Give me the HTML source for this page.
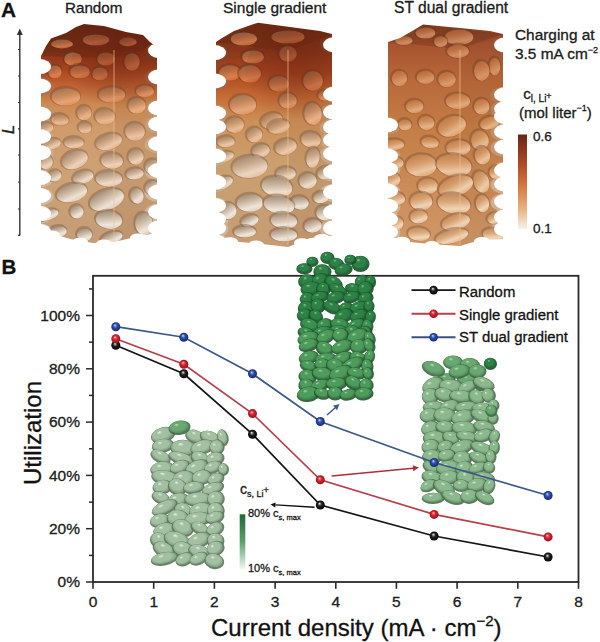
<!DOCTYPE html>
<html><head><meta charset="utf-8"><style>
html,body{margin:0;padding:0;background:#fff;}
body{width:600px;height:642px;overflow:hidden;font-family:"Liberation Sans",sans-serif;}
svg{display:block;}
text{stroke:#151515;stroke-width:0.3px;}
</style></head><body>
<svg width="600" height="642" viewBox="0 0 600 642">
<defs><linearGradient id="gc1" x1="0" y1="20" x2="0" y2="250" gradientUnits="userSpaceOnUse"><stop offset="0.017" stop-color="#6a2814"/><stop offset="0.122" stop-color="#7e3018"/><stop offset="0.200" stop-color="#a0401e"/><stop offset="0.278" stop-color="#be6030"/><stop offset="0.365" stop-color="#cc8a52"/><stop offset="0.478" stop-color="#d09c6c"/><stop offset="0.696" stop-color="#cca276"/><stop offset="0.970" stop-color="#c49c76"/></linearGradient>
<mask id="cpc1" maskUnits="userSpaceOnUse" x="0" y="0" width="600" height="260"><polygon points="41.0,56.0 46.0,46.0 51.0,38.5 66.0,33.0 76.0,27.0 84.0,24.0 104.0,26.0 126.0,32.0 143.0,35.0 150.0,42.0 157.0,47.0 157.0,233.0 140.0,236.0 114.0,242.0 93.0,243.0 70.0,239.0 41.0,230.0" fill="#fff"/><ellipse cx="39.0" cy="66.6" rx="12" ry="7.5" fill="#000"/><ellipse cx="39.0" cy="86.0" rx="12" ry="7.5" fill="#000"/><ellipse cx="39.0" cy="114.0" rx="12" ry="7.5" fill="#000"/><ellipse cx="39.0" cy="136.5" rx="12" ry="7.5" fill="#000"/><ellipse cx="39.0" cy="152.6" rx="12" ry="7.5" fill="#000"/><ellipse cx="39.0" cy="177.7" rx="12" ry="7.5" fill="#000"/><ellipse cx="39.0" cy="195.6" rx="12" ry="7.5" fill="#000"/><ellipse cx="39.0" cy="213.5" rx="12" ry="7.5" fill="#000"/><ellipse cx="39.0" cy="231.5" rx="12" ry="7.5" fill="#000"/><ellipse cx="159.0" cy="50.5" rx="11" ry="7.5" fill="#000"/><ellipse cx="159.0" cy="77.0" rx="11" ry="7.5" fill="#000"/><ellipse cx="159.0" cy="108.0" rx="11" ry="7.5" fill="#000"/><ellipse cx="159.0" cy="124.0" rx="11" ry="7.5" fill="#000"/><ellipse cx="159.0" cy="143.7" rx="11" ry="7.5" fill="#000"/><ellipse cx="159.0" cy="170.5" rx="11" ry="7.5" fill="#000"/><ellipse cx="159.0" cy="192.0" rx="11" ry="7.5" fill="#000"/><ellipse cx="159.0" cy="211.8" rx="11" ry="7.5" fill="#000"/><ellipse cx="159.0" cy="228.0" rx="11" ry="7.5" fill="#000"/><ellipse cx="52.0" cy="234.9" rx="8" ry="4.5" fill="#000"/><ellipse cx="80.0" cy="242.2" rx="8" ry="4.5" fill="#000"/><ellipse cx="104.0" cy="244.0" rx="8" ry="4.5" fill="#000"/><ellipse cx="138.0" cy="238.0" rx="8" ry="4.5" fill="#000"/></mask>
<linearGradient id="hc1_96_40" x1="0.25" y1="0" x2="0.6" y2="1"><stop offset="0" stop-color="#825a46"/><stop offset="0.4" stop-color="#a85f38"/><stop offset="0.75" stop-color="#c47449"/><stop offset="1" stop-color="#bc6131"/></linearGradient>
<linearGradient id="hc1_128_42" x1="0.25" y1="0" x2="0.6" y2="1"><stop offset="0" stop-color="#835b46"/><stop offset="0.4" stop-color="#a95f38"/><stop offset="0.75" stop-color="#c5754a"/><stop offset="1" stop-color="#bd6231"/></linearGradient>
<linearGradient id="hc1_62_44" x1="0.25" y1="0" x2="0.6" y2="1"><stop offset="0" stop-color="#835b46"/><stop offset="0.4" stop-color="#a95f39"/><stop offset="0.75" stop-color="#c6754a"/><stop offset="1" stop-color="#be6231"/></linearGradient>
<linearGradient id="hc1_73_59" x1="0.25" y1="0" x2="0.6" y2="1"><stop offset="0" stop-color="#8b5e48"/><stop offset="0.4" stop-color="#b3643a"/><stop offset="0.75" stop-color="#cf794b"/><stop offset="1" stop-color="#c96733"/></linearGradient>
<linearGradient id="hc1_106_59" x1="0.25" y1="0" x2="0.6" y2="1"><stop offset="0" stop-color="#8b5e48"/><stop offset="0.4" stop-color="#b3643a"/><stop offset="0.75" stop-color="#cf794b"/><stop offset="1" stop-color="#c96733"/></linearGradient>
<linearGradient id="hc1_132_62" x1="0.25" y1="0" x2="0.6" y2="1"><stop offset="0" stop-color="#8d5f48"/><stop offset="0.4" stop-color="#b5653b"/><stop offset="0.75" stop-color="#d27a4c"/><stop offset="1" stop-color="#cb6833"/></linearGradient>
<linearGradient id="hc1_80_72" x1="0.25" y1="0" x2="0.6" y2="1"><stop offset="0" stop-color="#92644b"/><stop offset="0.4" stop-color="#bc6b3e"/><stop offset="0.75" stop-color="#d8804f"/><stop offset="1" stop-color="#d36f37"/></linearGradient>
<linearGradient id="hc1_55_72" x1="0.25" y1="0" x2="0.6" y2="1"><stop offset="0" stop-color="#92644b"/><stop offset="0.4" stop-color="#bc6b3e"/><stop offset="0.75" stop-color="#d8804f"/><stop offset="1" stop-color="#d36f37"/></linearGradient>
<linearGradient id="hc1_100_74" x1="0.25" y1="0" x2="0.6" y2="1"><stop offset="0" stop-color="#94654b"/><stop offset="0.4" stop-color="#be6c3e"/><stop offset="0.75" stop-color="#da8150"/><stop offset="1" stop-color="#d57038"/></linearGradient>
<linearGradient id="hc1_144_91" x1="0.25" y1="0" x2="0.6" y2="1"><stop offset="0" stop-color="#9b7155"/><stop offset="0.4" stop-color="#c78051"/><stop offset="0.75" stop-color="#e49b6b"/><stop offset="1" stop-color="#df8850"/></linearGradient>
<linearGradient id="hc1_112_95" x1="0.25" y1="0" x2="0.6" y2="1"><stop offset="0" stop-color="#9b7457"/><stop offset="0.4" stop-color="#c88456"/><stop offset="0.75" stop-color="#e5a071"/><stop offset="1" stop-color="#e08d55"/></linearGradient>
<linearGradient id="hc1_66_97" x1="0.25" y1="0" x2="0.6" y2="1"><stop offset="0" stop-color="#9c7558"/><stop offset="0.4" stop-color="#c88758"/><stop offset="0.75" stop-color="#e6a375"/><stop offset="1" stop-color="#e19058"/></linearGradient>
<linearGradient id="hc1_137_106" x1="0.25" y1="0" x2="0.6" y2="1"><stop offset="0" stop-color="#9e7b5e"/><stop offset="0.4" stop-color="#ca9063"/><stop offset="0.75" stop-color="#e8ae83"/><stop offset="1" stop-color="#e39b65"/></linearGradient>
<linearGradient id="hc1_84_113" x1="0.25" y1="0" x2="0.6" y2="1"><stop offset="0" stop-color="#9e7d61"/><stop offset="0.4" stop-color="#cb946a"/><stop offset="0.75" stop-color="#e9b48c"/><stop offset="1" stop-color="#e3a16e"/></linearGradient>
<linearGradient id="hc1_105_117" x1="0.25" y1="0" x2="0.6" y2="1"><stop offset="0" stop-color="#9e7e63"/><stop offset="0.4" stop-color="#cb976d"/><stop offset="0.75" stop-color="#e9b891"/><stop offset="1" stop-color="#e3a473"/></linearGradient>
<linearGradient id="hc1_60_120" x1="0.25" y1="0" x2="0.6" y2="1"><stop offset="0" stop-color="#9e7f64"/><stop offset="0.4" stop-color="#cb9870"/><stop offset="0.75" stop-color="#eaba95"/><stop offset="1" stop-color="#e4a676"/></linearGradient>
<linearGradient id="hc1_85_128" x1="0.25" y1="0" x2="0.6" y2="1"><stop offset="0" stop-color="#9f8167"/><stop offset="0.4" stop-color="#cc9d77"/><stop offset="0.75" stop-color="#ebc09f"/><stop offset="1" stop-color="#e4ac80"/></linearGradient>
<linearGradient id="hc1_45_128" x1="0.25" y1="0" x2="0.6" y2="1"><stop offset="0" stop-color="#9f8268"/><stop offset="0.4" stop-color="#cc9d78"/><stop offset="0.75" stop-color="#ebc19f"/><stop offset="1" stop-color="#e4ac80"/></linearGradient>
<linearGradient id="hc1_135_132" x1="0.25" y1="0" x2="0.6" y2="1"><stop offset="0" stop-color="#9f8269"/><stop offset="0.4" stop-color="#cc9f7a"/><stop offset="0.75" stop-color="#ebc3a3"/><stop offset="1" stop-color="#e4af84"/></linearGradient>
<linearGradient id="hc1_109_142" x1="0.25" y1="0" x2="0.6" y2="1"><stop offset="0" stop-color="#9e836a"/><stop offset="0.4" stop-color="#cba380"/><stop offset="0.75" stop-color="#ebc8ac"/><stop offset="1" stop-color="#e4b48c"/></linearGradient>
<linearGradient id="hc1_74_143" x1="0.25" y1="0" x2="0.6" y2="1"><stop offset="0" stop-color="#9e836a"/><stop offset="0.4" stop-color="#cba381"/><stop offset="0.75" stop-color="#ebc9ad"/><stop offset="1" stop-color="#e4b48d"/></linearGradient>
<linearGradient id="hc1_51_144" x1="0.25" y1="0" x2="0.6" y2="1"><stop offset="0" stop-color="#9e846b"/><stop offset="0.4" stop-color="#cba482"/><stop offset="0.75" stop-color="#ebcaae"/><stop offset="1" stop-color="#e4b58e"/></linearGradient>
<linearGradient id="hc1_136_157" x1="0.25" y1="0" x2="0.6" y2="1"><stop offset="0" stop-color="#9e856d"/><stop offset="0.4" stop-color="#cba889"/><stop offset="0.75" stop-color="#ecd0b9"/><stop offset="1" stop-color="#e3bb99"/></linearGradient>
<linearGradient id="hc1_75_160" x1="0.25" y1="0" x2="0.6" y2="1"><stop offset="0" stop-color="#9e856e"/><stop offset="0.4" stop-color="#cba98b"/><stop offset="0.75" stop-color="#ecd2bb"/><stop offset="1" stop-color="#e3bd9c"/></linearGradient>
<linearGradient id="hc1_112_161" x1="0.25" y1="0" x2="0.6" y2="1"><stop offset="0" stop-color="#9e856e"/><stop offset="0.4" stop-color="#cbaa8c"/><stop offset="0.75" stop-color="#ecd2bc"/><stop offset="1" stop-color="#e3be9c"/></linearGradient>
<linearGradient id="hc1_46_162" x1="0.25" y1="0" x2="0.6" y2="1"><stop offset="0" stop-color="#9e866e"/><stop offset="0.4" stop-color="#cbaa8d"/><stop offset="0.75" stop-color="#ecd3bd"/><stop offset="1" stop-color="#e3be9d"/></linearGradient>
<linearGradient id="hc1_152_166" x1="0.25" y1="0" x2="0.6" y2="1"><stop offset="0" stop-color="#9e866f"/><stop offset="0.4" stop-color="#cbac8f"/><stop offset="0.75" stop-color="#ecd5c0"/><stop offset="1" stop-color="#e3c1a1"/></linearGradient>
<linearGradient id="hc1_135_174" x1="0.25" y1="0" x2="0.6" y2="1"><stop offset="0" stop-color="#9e8770"/><stop offset="0.4" stop-color="#cbaf94"/><stop offset="0.75" stop-color="#edd9c6"/><stop offset="1" stop-color="#e3c4a7"/></linearGradient>
<linearGradient id="hc1_55_176" x1="0.25" y1="0" x2="0.6" y2="1"><stop offset="0" stop-color="#9e8770"/><stop offset="0.4" stop-color="#cbaf95"/><stop offset="0.75" stop-color="#eddac7"/><stop offset="1" stop-color="#e3c5a9"/></linearGradient>
<linearGradient id="hc1_83_177" x1="0.25" y1="0" x2="0.6" y2="1"><stop offset="0" stop-color="#9e8771"/><stop offset="0.4" stop-color="#cab096"/><stop offset="0.75" stop-color="#eddac8"/><stop offset="1" stop-color="#e3c6aa"/></linearGradient>
<linearGradient id="hc1_109_179" x1="0.25" y1="0" x2="0.6" y2="1"><stop offset="0" stop-color="#9d8771"/><stop offset="0.4" stop-color="#cab097"/><stop offset="0.75" stop-color="#eddbca"/><stop offset="1" stop-color="#e3c7ab"/></linearGradient>
<linearGradient id="hc1_152_187" x1="0.25" y1="0" x2="0.6" y2="1"><stop offset="0" stop-color="#9d8872"/><stop offset="0.4" stop-color="#cab39c"/><stop offset="0.75" stop-color="#eddfd0"/><stop offset="1" stop-color="#e3cbb2"/></linearGradient>
<linearGradient id="hc1_72_193" x1="0.25" y1="0" x2="0.6" y2="1"><stop offset="0" stop-color="#9d8873"/><stop offset="0.4" stop-color="#cab59e"/><stop offset="0.75" stop-color="#eee1d3"/><stop offset="1" stop-color="#e3cdb6"/></linearGradient>
<linearGradient id="hc1_137_196" x1="0.25" y1="0" x2="0.6" y2="1"><stop offset="0" stop-color="#9d8873"/><stop offset="0.4" stop-color="#cab6a0"/><stop offset="0.75" stop-color="#eee2d5"/><stop offset="1" stop-color="#e2ceb9"/></linearGradient>
<linearGradient id="hc1_107_200" x1="0.25" y1="0" x2="0.6" y2="1"><stop offset="0" stop-color="#9d8873"/><stop offset="0.4" stop-color="#cab7a2"/><stop offset="0.75" stop-color="#eee3d7"/><stop offset="1" stop-color="#e2d0bc"/></linearGradient>
<linearGradient id="hc1_77_212" x1="0.25" y1="0" x2="0.6" y2="1"><stop offset="0" stop-color="#9c8874"/><stop offset="0.4" stop-color="#c9b8a5"/><stop offset="0.75" stop-color="#eee5da"/><stop offset="1" stop-color="#e2d2bf"/></linearGradient>
<linearGradient id="hc1_47_215" x1="0.25" y1="0" x2="0.6" y2="1"><stop offset="0" stop-color="#9c8874"/><stop offset="0.4" stop-color="#c9b8a5"/><stop offset="0.75" stop-color="#eee5da"/><stop offset="1" stop-color="#e2d2bf"/></linearGradient>
<linearGradient id="hc1_109_220" x1="0.25" y1="0" x2="0.6" y2="1"><stop offset="0" stop-color="#9c8874"/><stop offset="0.4" stop-color="#c9b8a5"/><stop offset="0.75" stop-color="#eee5da"/><stop offset="1" stop-color="#e2d2bf"/></linearGradient>
<linearGradient id="hc1_144_224" x1="0.25" y1="0" x2="0.6" y2="1"><stop offset="0" stop-color="#9c8874"/><stop offset="0.4" stop-color="#c9b8a5"/><stop offset="0.75" stop-color="#eee5da"/><stop offset="1" stop-color="#e1d2bf"/></linearGradient>
<linearGradient id="hc1_58_232" x1="0.25" y1="0" x2="0.6" y2="1"><stop offset="0" stop-color="#9c8874"/><stop offset="0.4" stop-color="#c9b8a5"/><stop offset="0.75" stop-color="#eee5da"/><stop offset="1" stop-color="#e1d2bf"/></linearGradient>
<linearGradient id="hc1_84_235" x1="0.25" y1="0" x2="0.6" y2="1"><stop offset="0" stop-color="#9b8874"/><stop offset="0.4" stop-color="#c8b7a5"/><stop offset="0.75" stop-color="#eee5da"/><stop offset="1" stop-color="#e1d1bf"/></linearGradient>
<linearGradient id="hc1_112_238" x1="0.25" y1="0" x2="0.6" y2="1"><stop offset="0" stop-color="#9b8874"/><stop offset="0.4" stop-color="#c8b7a5"/><stop offset="0.75" stop-color="#eee5da"/><stop offset="1" stop-color="#e1d1bf"/></linearGradient>
<radialGradient id="shc1" cx="0.5" cy="0.3" r="0.6"><stop offset="0" stop-color="#6a2010" stop-opacity="0.45"/><stop offset="0.5" stop-color="#6a2010" stop-opacity="0.27"/><stop offset="1" stop-color="#6a2010" stop-opacity="0"/></radialGradient>
<linearGradient id="gc2" x1="0" y1="20" x2="0" y2="250" gradientUnits="userSpaceOnUse"><stop offset="0.013" stop-color="#742c16"/><stop offset="0.122" stop-color="#86361a"/><stop offset="0.226" stop-color="#a84620"/><stop offset="0.326" stop-color="#c46a34"/><stop offset="0.443" stop-color="#cc9058"/><stop offset="0.630" stop-color="#caa070"/><stop offset="0.974" stop-color="#c69c74"/></linearGradient>
<mask id="cpc2" maskUnits="userSpaceOnUse" x="0" y="0" width="600" height="260"><polygon points="216.0,42.0 222.0,38.0 234.0,31.0 248.0,26.0 258.0,22.7 290.0,27.0 320.0,31.0 332.0,34.0 332.0,236.0 310.0,238.0 288.0,247.0 262.0,244.0 240.0,242.0 216.0,238.0" fill="#fff"/><ellipse cx="214.0" cy="52.6" rx="12" ry="7.5" fill="#000"/><ellipse cx="214.0" cy="81.0" rx="12" ry="7.5" fill="#000"/><ellipse cx="214.0" cy="113.0" rx="12" ry="7.5" fill="#000"/><ellipse cx="214.0" cy="126.8" rx="12" ry="7.5" fill="#000"/><ellipse cx="214.0" cy="156.0" rx="12" ry="7.5" fill="#000"/><ellipse cx="214.0" cy="182.0" rx="12" ry="7.5" fill="#000"/><ellipse cx="214.0" cy="205.5" rx="12" ry="7.5" fill="#000"/><ellipse cx="214.0" cy="219.0" rx="12" ry="7.5" fill="#000"/><ellipse cx="214.0" cy="228.0" rx="12" ry="7.5" fill="#000"/><ellipse cx="214.0" cy="241.5" rx="12" ry="7.5" fill="#000"/><ellipse cx="334.0" cy="44.8" rx="11" ry="7.5" fill="#000"/><ellipse cx="334.0" cy="94.3" rx="11" ry="7.5" fill="#000"/><ellipse cx="334.0" cy="112.0" rx="11" ry="7.5" fill="#000"/><ellipse cx="334.0" cy="127.0" rx="11" ry="7.5" fill="#000"/><ellipse cx="334.0" cy="140.0" rx="11" ry="7.5" fill="#000"/><ellipse cx="334.0" cy="153.8" rx="11" ry="7.5" fill="#000"/><ellipse cx="334.0" cy="171.8" rx="11" ry="7.5" fill="#000"/><ellipse cx="334.0" cy="192.0" rx="11" ry="7.5" fill="#000"/><ellipse cx="334.0" cy="212.0" rx="11" ry="7.5" fill="#000"/><ellipse cx="334.0" cy="228.0" rx="11" ry="7.5" fill="#000"/><ellipse cx="230.0" cy="241.8" rx="8" ry="4.5" fill="#000"/><ellipse cx="256.0" cy="245.0" rx="8" ry="4.5" fill="#000"/><ellipse cx="302.0" cy="242.8" rx="8" ry="4.5" fill="#000"/><ellipse cx="322.0" cy="238.4" rx="8" ry="4.5" fill="#000"/></mask>
<linearGradient id="hc2_288_37" x1="0.25" y1="0" x2="0.6" y2="1"><stop offset="0" stop-color="#845c47"/><stop offset="0.4" stop-color="#ab6139"/><stop offset="0.75" stop-color="#c7764a"/><stop offset="1" stop-color="#bf6331"/></linearGradient>
<linearGradient id="hc2_244_39" x1="0.25" y1="0" x2="0.6" y2="1"><stop offset="0" stop-color="#855c47"/><stop offset="0.4" stop-color="#ab6139"/><stop offset="0.75" stop-color="#c8764a"/><stop offset="1" stop-color="#c06432"/></linearGradient>
<linearGradient id="hc2_288_54" x1="0.25" y1="0" x2="0.6" y2="1"><stop offset="0" stop-color="#8a5f48"/><stop offset="0.4" stop-color="#b1643a"/><stop offset="0.75" stop-color="#ce794b"/><stop offset="1" stop-color="#c76733"/></linearGradient>
<linearGradient id="hc2_253_57" x1="0.25" y1="0" x2="0.6" y2="1"><stop offset="0" stop-color="#8b5f48"/><stop offset="0.4" stop-color="#b3653b"/><stop offset="0.75" stop-color="#cf7a4c"/><stop offset="1" stop-color="#c96833"/></linearGradient>
<linearGradient id="hc2_230_73" x1="0.25" y1="0" x2="0.6" y2="1"><stop offset="0" stop-color="#926349"/><stop offset="0.4" stop-color="#bc6a3c"/><stop offset="0.75" stop-color="#d87f4d"/><stop offset="1" stop-color="#d36d35"/></linearGradient>
<linearGradient id="hc2_250_74" x1="0.25" y1="0" x2="0.6" y2="1"><stop offset="0" stop-color="#93634a"/><stop offset="0.4" stop-color="#bd6a3d"/><stop offset="0.75" stop-color="#d97f4e"/><stop offset="1" stop-color="#d36e36"/></linearGradient>
<linearGradient id="hc2_313_81" x1="0.25" y1="0" x2="0.6" y2="1"><stop offset="0" stop-color="#95674d"/><stop offset="0.4" stop-color="#c07143"/><stop offset="0.75" stop-color="#dd8958"/><stop offset="1" stop-color="#d7763e"/></linearGradient>
<linearGradient id="hc2_279_84" x1="0.25" y1="0" x2="0.6" y2="1"><stop offset="0" stop-color="#97694e"/><stop offset="0.4" stop-color="#c27446"/><stop offset="0.75" stop-color="#df8d5c"/><stop offset="1" stop-color="#d97a41"/></linearGradient>
<linearGradient id="hc2_325_95" x1="0.25" y1="0" x2="0.6" y2="1"><stop offset="0" stop-color="#9b7053"/><stop offset="0.4" stop-color="#c78051"/><stop offset="0.75" stop-color="#e59c6d"/><stop offset="1" stop-color="#df8850"/></linearGradient>
<linearGradient id="hc2_288_101" x1="0.25" y1="0" x2="0.6" y2="1"><stop offset="0" stop-color="#9b7356"/><stop offset="0.4" stop-color="#c88557"/><stop offset="0.75" stop-color="#e6a376"/><stop offset="1" stop-color="#e08e57"/></linearGradient>
<linearGradient id="hc2_243_105" x1="0.25" y1="0" x2="0.6" y2="1"><stop offset="0" stop-color="#9c7558"/><stop offset="0.4" stop-color="#c8885b"/><stop offset="0.75" stop-color="#e6a77c"/><stop offset="1" stop-color="#e1935d"/></linearGradient>
<linearGradient id="hc2_313_114" x1="0.25" y1="0" x2="0.6" y2="1"><stop offset="0" stop-color="#9d7a5d"/><stop offset="0.4" stop-color="#c99065"/><stop offset="0.75" stop-color="#e8b189"/><stop offset="1" stop-color="#e29d69"/></linearGradient>
<linearGradient id="hc2_272_121" x1="0.25" y1="0" x2="0.6" y2="1"><stop offset="0" stop-color="#9d7d60"/><stop offset="0.4" stop-color="#ca966c"/><stop offset="0.75" stop-color="#e9b992"/><stop offset="1" stop-color="#e3a473"/></linearGradient>
<linearGradient id="hc2_234_125" x1="0.25" y1="0" x2="0.6" y2="1"><stop offset="0" stop-color="#9d7e62"/><stop offset="0.4" stop-color="#ca9970"/><stop offset="0.75" stop-color="#e9bc97"/><stop offset="1" stop-color="#e3a777"/></linearGradient>
<linearGradient id="hc2_279_127" x1="0.25" y1="0" x2="0.6" y2="1"><stop offset="0" stop-color="#9d7f62"/><stop offset="0.4" stop-color="#ca9a71"/><stop offset="0.75" stop-color="#e9bd99"/><stop offset="1" stop-color="#e3a879"/></linearGradient>
<linearGradient id="hc2_254_135" x1="0.25" y1="0" x2="0.6" y2="1"><stop offset="0" stop-color="#9d8065"/><stop offset="0.4" stop-color="#ca9d77"/><stop offset="0.75" stop-color="#eac2a2"/><stop offset="1" stop-color="#e3ad81"/></linearGradient>
<linearGradient id="hc2_311_140" x1="0.25" y1="0" x2="0.6" y2="1"><stop offset="0" stop-color="#9d8166"/><stop offset="0.4" stop-color="#caa07b"/><stop offset="0.75" stop-color="#eac6a7"/><stop offset="1" stop-color="#e2b086"/></linearGradient>
<linearGradient id="hc2_226_142" x1="0.25" y1="0" x2="0.6" y2="1"><stop offset="0" stop-color="#9d8267"/><stop offset="0.4" stop-color="#caa17c"/><stop offset="0.75" stop-color="#eac7a9"/><stop offset="1" stop-color="#e2b288"/></linearGradient>
<linearGradient id="hc2_286_147" x1="0.25" y1="0" x2="0.6" y2="1"><stop offset="0" stop-color="#9d8268"/><stop offset="0.4" stop-color="#caa380"/><stop offset="0.75" stop-color="#ebcaae"/><stop offset="1" stop-color="#e2b58d"/></linearGradient>
<linearGradient id="hc2_261_151" x1="0.25" y1="0" x2="0.6" y2="1"><stop offset="0" stop-color="#9d8369"/><stop offset="0.4" stop-color="#caa583"/><stop offset="0.75" stop-color="#ebccb2"/><stop offset="1" stop-color="#e2b791"/></linearGradient>
<linearGradient id="hc2_222_157" x1="0.25" y1="0" x2="0.6" y2="1"><stop offset="0" stop-color="#9d846b"/><stop offset="0.4" stop-color="#caa888"/><stop offset="0.75" stop-color="#ebd0b7"/><stop offset="1" stop-color="#e2bb97"/></linearGradient>
<linearGradient id="hc2_313_158" x1="0.25" y1="0" x2="0.6" y2="1"><stop offset="0" stop-color="#9d846b"/><stop offset="0.4" stop-color="#caa888"/><stop offset="0.75" stop-color="#ebd0b8"/><stop offset="1" stop-color="#e2bb98"/></linearGradient>
<linearGradient id="hc2_250_167" x1="0.25" y1="0" x2="0.6" y2="1"><stop offset="0" stop-color="#9d866e"/><stop offset="0.4" stop-color="#caac8e"/><stop offset="0.75" stop-color="#ecd5c0"/><stop offset="1" stop-color="#e2c0a0"/></linearGradient>
<linearGradient id="hc2_326_173" x1="0.25" y1="0" x2="0.6" y2="1"><stop offset="0" stop-color="#9d866f"/><stop offset="0.4" stop-color="#caae92"/><stop offset="0.75" stop-color="#ecd8c4"/><stop offset="1" stop-color="#e2c3a5"/></linearGradient>
<linearGradient id="hc2_286_174" x1="0.25" y1="0" x2="0.6" y2="1"><stop offset="0" stop-color="#9d866f"/><stop offset="0.4" stop-color="#caae92"/><stop offset="0.75" stop-color="#ecd8c5"/><stop offset="1" stop-color="#e2c4a6"/></linearGradient>
<linearGradient id="hc2_308_181" x1="0.25" y1="0" x2="0.6" y2="1"><stop offset="0" stop-color="#9d8770"/><stop offset="0.4" stop-color="#cab096"/><stop offset="0.75" stop-color="#eddbca"/><stop offset="1" stop-color="#e2c7ab"/></linearGradient>
<linearGradient id="hc2_222_183" x1="0.25" y1="0" x2="0.6" y2="1"><stop offset="0" stop-color="#9d8770"/><stop offset="0.4" stop-color="#cab198"/><stop offset="0.75" stop-color="#eddccb"/><stop offset="1" stop-color="#e2c8ad"/></linearGradient>
<linearGradient id="hc2_277_187" x1="0.25" y1="0" x2="0.6" y2="1"><stop offset="0" stop-color="#9d8770"/><stop offset="0.4" stop-color="#c9b29a"/><stop offset="0.75" stop-color="#eddece"/><stop offset="1" stop-color="#e2cab0"/></linearGradient>
<linearGradient id="hc2_321_197" x1="0.25" y1="0" x2="0.6" y2="1"><stop offset="0" stop-color="#9c8872"/><stop offset="0.4" stop-color="#c9b59f"/><stop offset="0.75" stop-color="#eee2d5"/><stop offset="1" stop-color="#e2ceb8"/></linearGradient>
<linearGradient id="hc2_250_203" x1="0.25" y1="0" x2="0.6" y2="1"><stop offset="0" stop-color="#9c8872"/><stop offset="0.4" stop-color="#c9b7a3"/><stop offset="0.75" stop-color="#eee4d8"/><stop offset="1" stop-color="#e2d1bd"/></linearGradient>
<linearGradient id="hc2_300_203" x1="0.25" y1="0" x2="0.6" y2="1"><stop offset="0" stop-color="#9c8872"/><stop offset="0.4" stop-color="#c9b7a3"/><stop offset="0.75" stop-color="#eee4d8"/><stop offset="1" stop-color="#e2d1bd"/></linearGradient>
<linearGradient id="hc2_279_205" x1="0.25" y1="0" x2="0.6" y2="1"><stop offset="0" stop-color="#9c8873"/><stop offset="0.4" stop-color="#c9b8a4"/><stop offset="0.75" stop-color="#eee5d9"/><stop offset="1" stop-color="#e2d2be"/></linearGradient>
<linearGradient id="hc2_228_211" x1="0.25" y1="0" x2="0.6" y2="1"><stop offset="0" stop-color="#9c8873"/><stop offset="0.4" stop-color="#c9b8a4"/><stop offset="0.75" stop-color="#eee5da"/><stop offset="1" stop-color="#e2d2be"/></linearGradient>
<linearGradient id="hc2_324_213" x1="0.25" y1="0" x2="0.6" y2="1"><stop offset="0" stop-color="#9c8873"/><stop offset="0.4" stop-color="#c9b8a4"/><stop offset="0.75" stop-color="#eee5da"/><stop offset="1" stop-color="#e2d2be"/></linearGradient>
<linearGradient id="hc2_250_221" x1="0.25" y1="0" x2="0.6" y2="1"><stop offset="0" stop-color="#9c8873"/><stop offset="0.4" stop-color="#c9b8a4"/><stop offset="0.75" stop-color="#eee5da"/><stop offset="1" stop-color="#e2d2bf"/></linearGradient>
<linearGradient id="hc2_284_221" x1="0.25" y1="0" x2="0.6" y2="1"><stop offset="0" stop-color="#9c8873"/><stop offset="0.4" stop-color="#c9b8a4"/><stop offset="0.75" stop-color="#eee5da"/><stop offset="1" stop-color="#e2d2bf"/></linearGradient>
<linearGradient id="hc2_313_226" x1="0.25" y1="0" x2="0.6" y2="1"><stop offset="0" stop-color="#9c8873"/><stop offset="0.4" stop-color="#c9b7a4"/><stop offset="0.75" stop-color="#eee5da"/><stop offset="1" stop-color="#e2d2bf"/></linearGradient>
<linearGradient id="hc2_245_232" x1="0.25" y1="0" x2="0.6" y2="1"><stop offset="0" stop-color="#9c8873"/><stop offset="0.4" stop-color="#c9b7a4"/><stop offset="0.75" stop-color="#eee5da"/><stop offset="1" stop-color="#e2d1bf"/></linearGradient>
<linearGradient id="hc2_284_235" x1="0.25" y1="0" x2="0.6" y2="1"><stop offset="0" stop-color="#9c8873"/><stop offset="0.4" stop-color="#c9b7a4"/><stop offset="0.75" stop-color="#eee5da"/><stop offset="1" stop-color="#e1d1bf"/></linearGradient>
<radialGradient id="shc2" cx="0.5" cy="0.3" r="0.6"><stop offset="0" stop-color="#6a2010" stop-opacity="0.45"/><stop offset="0.5" stop-color="#6a2010" stop-opacity="0.27"/><stop offset="1" stop-color="#6a2010" stop-opacity="0"/></radialGradient>
<linearGradient id="gc3" x1="0" y1="20" x2="0" y2="250" gradientUnits="userSpaceOnUse"><stop offset="0.017" stop-color="#8a4022"/><stop offset="0.109" stop-color="#a65430"/><stop offset="0.261" stop-color="#b8693a"/><stop offset="0.478" stop-color="#c47e46"/><stop offset="0.739" stop-color="#cc8c58"/><stop offset="0.978" stop-color="#d09868"/></linearGradient>
<mask id="cpc3" maskUnits="userSpaceOnUse" x="0" y="0" width="600" height="260"><polygon points="388.0,42.0 400.0,38.0 414.0,30.0 423.0,24.5 460.0,28.0 490.0,31.0 503.0,34.0 503.0,239.0 480.0,240.0 460.0,246.0 430.0,244.0 410.0,242.0 388.0,236.0" fill="#fff"/><ellipse cx="386.0" cy="125.0" rx="12" ry="7.5" fill="#000"/><ellipse cx="386.0" cy="155.8" rx="12" ry="7.5" fill="#000"/><ellipse cx="386.0" cy="169.0" rx="12" ry="7.5" fill="#000"/><ellipse cx="386.0" cy="190.7" rx="12" ry="7.5" fill="#000"/><ellipse cx="386.0" cy="206.0" rx="12" ry="7.5" fill="#000"/><ellipse cx="386.0" cy="219.0" rx="12" ry="7.5" fill="#000"/><ellipse cx="386.0" cy="232.0" rx="12" ry="7.5" fill="#000"/><ellipse cx="505.0" cy="45.0" rx="11" ry="7.5" fill="#000"/><ellipse cx="505.0" cy="94.8" rx="11" ry="7.5" fill="#000"/><ellipse cx="505.0" cy="108.8" rx="11" ry="7.5" fill="#000"/><ellipse cx="505.0" cy="116.5" rx="11" ry="7.5" fill="#000"/><ellipse cx="505.0" cy="131.8" rx="11" ry="7.5" fill="#000"/><ellipse cx="505.0" cy="147.0" rx="11" ry="7.5" fill="#000"/><ellipse cx="505.0" cy="170.0" rx="11" ry="7.5" fill="#000"/><ellipse cx="505.0" cy="184.0" rx="11" ry="7.5" fill="#000"/><ellipse cx="505.0" cy="201.6" rx="11" ry="7.5" fill="#000"/><ellipse cx="505.0" cy="217.0" rx="11" ry="7.5" fill="#000"/><ellipse cx="505.0" cy="228.9" rx="11" ry="7.5" fill="#000"/><ellipse cx="402.0" cy="241.3" rx="8" ry="4.5" fill="#000"/><ellipse cx="432.0" cy="245.6" rx="8" ry="4.5" fill="#000"/><ellipse cx="482.0" cy="241.4" rx="8" ry="4.5" fill="#000"/></mask>
<linearGradient id="hc3_425_33" x1="0.25" y1="0" x2="0.6" y2="1"><stop offset="0" stop-color="#9c532f"/><stop offset="0.4" stop-color="#b46a40"/><stop offset="0.75" stop-color="#c88760"/><stop offset="1" stop-color="#c1774a"/></linearGradient>
<linearGradient id="hc3_459_37" x1="0.25" y1="0" x2="0.6" y2="1"><stop offset="0" stop-color="#a05631"/><stop offset="0.4" stop-color="#b76d42"/><stop offset="0.75" stop-color="#cb8961"/><stop offset="1" stop-color="#c4794b"/></linearGradient>
<linearGradient id="hc3_403_40" x1="0.25" y1="0" x2="0.6" y2="1"><stop offset="0" stop-color="#a35833"/><stop offset="0.4" stop-color="#ba6f43"/><stop offset="0.75" stop-color="#cd8b62"/><stop offset="1" stop-color="#c67b4d"/></linearGradient>
<linearGradient id="hc3_440_41" x1="0.25" y1="0" x2="0.6" y2="1"><stop offset="0" stop-color="#a45933"/><stop offset="0.4" stop-color="#bb6f44"/><stop offset="0.75" stop-color="#ce8b62"/><stop offset="1" stop-color="#c77b4d"/></linearGradient>
<linearGradient id="hc3_458_51" x1="0.25" y1="0" x2="0.6" y2="1"><stop offset="0" stop-color="#a95e36"/><stop offset="0.4" stop-color="#bf7346"/><stop offset="0.75" stop-color="#d28e64"/><stop offset="1" stop-color="#cb7f4f"/></linearGradient>
<linearGradient id="hc3_494_66" x1="0.25" y1="0" x2="0.6" y2="1"><stop offset="0" stop-color="#af6439"/><stop offset="0.4" stop-color="#c47949"/><stop offset="0.75" stop-color="#d59366"/><stop offset="1" stop-color="#d08452"/></linearGradient>
<linearGradient id="hc3_481_71" x1="0.25" y1="0" x2="0.6" y2="1"><stop offset="0" stop-color="#b0663a"/><stop offset="0.4" stop-color="#c57a4a"/><stop offset="0.75" stop-color="#d69467"/><stop offset="1" stop-color="#d18652"/></linearGradient>
<linearGradient id="hc3_425_77" x1="0.25" y1="0" x2="0.6" y2="1"><stop offset="0" stop-color="#b3683b"/><stop offset="0.4" stop-color="#c77d4b"/><stop offset="0.75" stop-color="#d89769"/><stop offset="1" stop-color="#d38854"/></linearGradient>
<linearGradient id="hc3_399_78" x1="0.25" y1="0" x2="0.6" y2="1"><stop offset="0" stop-color="#b3693b"/><stop offset="0.4" stop-color="#c87e4b"/><stop offset="0.75" stop-color="#d9986a"/><stop offset="1" stop-color="#d38954"/></linearGradient>
<linearGradient id="hc3_447_79" x1="0.25" y1="0" x2="0.6" y2="1"><stop offset="0" stop-color="#b3693b"/><stop offset="0.4" stop-color="#c87e4c"/><stop offset="0.75" stop-color="#d9996b"/><stop offset="1" stop-color="#d48955"/></linearGradient>
<linearGradient id="hc3_458_101" x1="0.25" y1="0" x2="0.6" y2="1"><stop offset="0" stop-color="#b77040"/><stop offset="0.4" stop-color="#cc8753"/><stop offset="0.75" stop-color="#dfa77a"/><stop offset="1" stop-color="#d8935d"/></linearGradient>
<linearGradient id="hc3_414_106" x1="0.25" y1="0" x2="0.6" y2="1"><stop offset="0" stop-color="#b87241"/><stop offset="0.4" stop-color="#cd8955"/><stop offset="0.75" stop-color="#e0aa7e"/><stop offset="1" stop-color="#d9955f"/></linearGradient>
<linearGradient id="hc3_481_106" x1="0.25" y1="0" x2="0.6" y2="1"><stop offset="0" stop-color="#b87241"/><stop offset="0.4" stop-color="#cd8955"/><stop offset="0.75" stop-color="#e0aa7e"/><stop offset="1" stop-color="#d9955f"/></linearGradient>
<linearGradient id="hc3_426_123" x1="0.25" y1="0" x2="0.6" y2="1"><stop offset="0" stop-color="#bb7744"/><stop offset="0.4" stop-color="#d08f5a"/><stop offset="0.75" stop-color="#e4b389"/><stop offset="1" stop-color="#dc9c65"/></linearGradient>
<linearGradient id="hc3_489_123" x1="0.25" y1="0" x2="0.6" y2="1"><stop offset="0" stop-color="#bb7744"/><stop offset="0.4" stop-color="#d08f5a"/><stop offset="0.75" stop-color="#e4b389"/><stop offset="1" stop-color="#dc9c66"/></linearGradient>
<linearGradient id="hc3_405_125" x1="0.25" y1="0" x2="0.6" y2="1"><stop offset="0" stop-color="#bb7845"/><stop offset="0.4" stop-color="#d0905a"/><stop offset="0.75" stop-color="#e4b48a"/><stop offset="1" stop-color="#dc9d66"/></linearGradient>
<linearGradient id="hc3_452_126" x1="0.25" y1="0" x2="0.6" y2="1"><stop offset="0" stop-color="#bb7845"/><stop offset="0.4" stop-color="#d1905b"/><stop offset="0.75" stop-color="#e5b58b"/><stop offset="1" stop-color="#dc9e67"/></linearGradient>
<linearGradient id="hc3_480_140" x1="0.25" y1="0" x2="0.6" y2="1"><stop offset="0" stop-color="#bd7b48"/><stop offset="0.4" stop-color="#d2945f"/><stop offset="0.75" stop-color="#e7bb94"/><stop offset="1" stop-color="#dea26c"/></linearGradient>
<linearGradient id="hc3_430_142" x1="0.25" y1="0" x2="0.6" y2="1"><stop offset="0" stop-color="#bd7c49"/><stop offset="0.4" stop-color="#d39560"/><stop offset="0.75" stop-color="#e7bc95"/><stop offset="1" stop-color="#dea36d"/></linearGradient>
<linearGradient id="hc3_393_145" x1="0.25" y1="0" x2="0.6" y2="1"><stop offset="0" stop-color="#bd7c49"/><stop offset="0.4" stop-color="#d39661"/><stop offset="0.75" stop-color="#e8bd97"/><stop offset="1" stop-color="#dfa46e"/></linearGradient>
<linearGradient id="hc3_458_148" x1="0.25" y1="0" x2="0.6" y2="1"><stop offset="0" stop-color="#be7d4a"/><stop offset="0.4" stop-color="#d39662"/><stop offset="0.75" stop-color="#e8bf99"/><stop offset="1" stop-color="#dfa56f"/></linearGradient>
<linearGradient id="hc3_482_155" x1="0.25" y1="0" x2="0.6" y2="1"><stop offset="0" stop-color="#be7e4c"/><stop offset="0.4" stop-color="#d49864"/><stop offset="0.75" stop-color="#e9c29d"/><stop offset="1" stop-color="#e0a772"/></linearGradient>
<linearGradient id="hc3_394_163" x1="0.25" y1="0" x2="0.6" y2="1"><stop offset="0" stop-color="#bf7f4d"/><stop offset="0.4" stop-color="#d59a67"/><stop offset="0.75" stop-color="#eac5a2"/><stop offset="1" stop-color="#e1a975"/></linearGradient>
<linearGradient id="hc3_421_165" x1="0.25" y1="0" x2="0.6" y2="1"><stop offset="0" stop-color="#bf804e"/><stop offset="0.4" stop-color="#d59b68"/><stop offset="0.75" stop-color="#ebc6a3"/><stop offset="1" stop-color="#e1aa76"/></linearGradient>
<linearGradient id="hc3_454_165" x1="0.25" y1="0" x2="0.6" y2="1"><stop offset="0" stop-color="#bf804e"/><stop offset="0.4" stop-color="#d59b68"/><stop offset="0.75" stop-color="#ebc6a3"/><stop offset="1" stop-color="#e1aa76"/></linearGradient>
<linearGradient id="hc3_496_172" x1="0.25" y1="0" x2="0.6" y2="1"><stop offset="0" stop-color="#c08150"/><stop offset="0.4" stop-color="#d69d6a"/><stop offset="0.75" stop-color="#ecc9a7"/><stop offset="1" stop-color="#e2ac78"/></linearGradient>
<linearGradient id="hc3_392_180" x1="0.25" y1="0" x2="0.6" y2="1"><stop offset="0" stop-color="#c18351"/><stop offset="0.4" stop-color="#d79f6c"/><stop offset="0.75" stop-color="#edcbab"/><stop offset="1" stop-color="#e2ae7b"/></linearGradient>
<linearGradient id="hc3_481_182" x1="0.25" y1="0" x2="0.6" y2="1"><stop offset="0" stop-color="#c18352"/><stop offset="0.4" stop-color="#d79f6d"/><stop offset="0.75" stop-color="#edccac"/><stop offset="1" stop-color="#e3af7c"/></linearGradient>
<linearGradient id="hc3_428_186" x1="0.25" y1="0" x2="0.6" y2="1"><stop offset="0" stop-color="#c18453"/><stop offset="0.4" stop-color="#d7a06e"/><stop offset="0.75" stop-color="#eeceae"/><stop offset="1" stop-color="#e3b07d"/></linearGradient>
<linearGradient id="hc3_456_186" x1="0.25" y1="0" x2="0.6" y2="1"><stop offset="0" stop-color="#c18453"/><stop offset="0.4" stop-color="#d7a06e"/><stop offset="0.75" stop-color="#eeceae"/><stop offset="1" stop-color="#e3b07d"/></linearGradient>
<linearGradient id="hc3_395_198" x1="0.25" y1="0" x2="0.6" y2="1"><stop offset="0" stop-color="#c28656"/><stop offset="0.4" stop-color="#d8a372"/><stop offset="0.75" stop-color="#efd2b5"/><stop offset="1" stop-color="#e4b382"/></linearGradient>
<linearGradient id="hc3_421_201" x1="0.25" y1="0" x2="0.6" y2="1"><stop offset="0" stop-color="#c28656"/><stop offset="0.4" stop-color="#d8a473"/><stop offset="0.75" stop-color="#efd3b6"/><stop offset="1" stop-color="#e4b483"/></linearGradient>
<linearGradient id="hc3_454_203" x1="0.25" y1="0" x2="0.6" y2="1"><stop offset="0" stop-color="#c28757"/><stop offset="0.4" stop-color="#d8a474"/><stop offset="0.75" stop-color="#efd4b7"/><stop offset="1" stop-color="#e4b583"/></linearGradient>
<linearGradient id="hc3_482_203" x1="0.25" y1="0" x2="0.6" y2="1"><stop offset="0" stop-color="#c28757"/><stop offset="0.4" stop-color="#d8a474"/><stop offset="0.75" stop-color="#efd4b7"/><stop offset="1" stop-color="#e4b583"/></linearGradient>
<linearGradient id="hc3_419_216" x1="0.25" y1="0" x2="0.6" y2="1"><stop offset="0" stop-color="#c38959"/><stop offset="0.4" stop-color="#d9a676"/><stop offset="0.75" stop-color="#f0d5b8"/><stop offset="1" stop-color="#e5b685"/></linearGradient>
<linearGradient id="hc3_494_218" x1="0.25" y1="0" x2="0.6" y2="1"><stop offset="0" stop-color="#c3895a"/><stop offset="0.4" stop-color="#d9a676"/><stop offset="0.75" stop-color="#f0d5b8"/><stop offset="1" stop-color="#e5b685"/></linearGradient>
<linearGradient id="hc3_456_222" x1="0.25" y1="0" x2="0.6" y2="1"><stop offset="0" stop-color="#c3895a"/><stop offset="0.4" stop-color="#d9a676"/><stop offset="0.75" stop-color="#f0d5b9"/><stop offset="1" stop-color="#e5b686"/></linearGradient>
<linearGradient id="hc3_396_223" x1="0.25" y1="0" x2="0.6" y2="1"><stop offset="0" stop-color="#c38a5b"/><stop offset="0.4" stop-color="#d9a777"/><stop offset="0.75" stop-color="#f0d5b9"/><stop offset="1" stop-color="#e5b786"/></linearGradient>
<linearGradient id="hc3_419_234" x1="0.25" y1="0" x2="0.6" y2="1"><stop offset="0" stop-color="#c48b5d"/><stop offset="0.4" stop-color="#daa878"/><stop offset="0.75" stop-color="#f0d6b9"/><stop offset="1" stop-color="#e5b787"/></linearGradient>
<linearGradient id="hc3_493_234" x1="0.25" y1="0" x2="0.6" y2="1"><stop offset="0" stop-color="#c48b5d"/><stop offset="0.4" stop-color="#daa878"/><stop offset="0.75" stop-color="#f0d6ba"/><stop offset="1" stop-color="#e5b887"/></linearGradient>
<linearGradient id="hc3_452_236" x1="0.25" y1="0" x2="0.6" y2="1"><stop offset="0" stop-color="#c48b5d"/><stop offset="0.4" stop-color="#daa878"/><stop offset="0.75" stop-color="#f0d6ba"/><stop offset="1" stop-color="#e5b887"/></linearGradient>
<linearGradient id="cb1" x1="0" y1="0" x2="0" y2="1"><stop offset="0" stop-color="#6a2416"/><stop offset="0.3" stop-color="#ac4826"/><stop offset="0.55" stop-color="#d6783c"/><stop offset="0.8" stop-color="#e8b688"/><stop offset="1" stop-color="#f8f2ec"/></linearGradient>
<radialGradient id="gD" cx="0.5" cy="0.5" r="0.6" fx="0.38" fy="0.26"><stop offset="0" stop-color="#86c890"/><stop offset="0.22" stop-color="#2e8246"/><stop offset="0.6" stop-color="#2e8246"/><stop offset="1" stop-color="#1a5a2c"/></radialGradient>
<radialGradient id="gDM" cx="0.5" cy="0.5" r="0.6" fx="0.38" fy="0.26"><stop offset="0" stop-color="#94d09c"/><stop offset="0.22" stop-color="#3c9050"/><stop offset="0.6" stop-color="#3c9050"/><stop offset="1" stop-color="#226234"/></radialGradient>
<radialGradient id="gM" cx="0.5" cy="0.5" r="0.6" fx="0.38" fy="0.26"><stop offset="0" stop-color="#a4d8aa"/><stop offset="0.22" stop-color="#4e9c5c"/><stop offset="0.6" stop-color="#4e9c5c"/><stop offset="1" stop-color="#2c6a38"/></radialGradient>
<radialGradient id="gL" cx="0.5" cy="0.5" r="0.6" fx="0.38" fy="0.26"><stop offset="0" stop-color="#d8ecd6"/><stop offset="0.22" stop-color="#8cb88e"/><stop offset="0.6" stop-color="#8cb88e"/><stop offset="1" stop-color="#5e8a60"/></radialGradient>
<radialGradient id="gLD" cx="0.5" cy="0.5" r="0.6" fx="0.38" fy="0.26"><stop offset="0" stop-color="#c0e0c0"/><stop offset="0.22" stop-color="#6aa872"/><stop offset="0.6" stop-color="#6aa872"/><stop offset="1" stop-color="#487e50"/></radialGradient>
<radialGradient id="gP" cx="0.5" cy="0.5" r="0.6" fx="0.38" fy="0.26"><stop offset="0" stop-color="#e8f2e6"/><stop offset="0.22" stop-color="#a4c0a2"/><stop offset="0.6" stop-color="#a4c0a2"/><stop offset="1" stop-color="#729072"/></radialGradient>
<radialGradient id="mK" cx="0.5" cy="0.5" r="0.55" fx="0.4" fy="0.32"><stop offset="0" stop-color="#f0f0f0"/><stop offset="0.18" stop-color="#909090"/><stop offset="0.42" stop-color="#222"/><stop offset="1" stop-color="#000"/></radialGradient>
<radialGradient id="mR" cx="0.5" cy="0.5" r="0.55" fx="0.4" fy="0.32"><stop offset="0" stop-color="#ffe8e8"/><stop offset="0.2" stop-color="#f06068"/><stop offset="0.45" stop-color="#d82030"/><stop offset="1" stop-color="#8a1018"/></radialGradient>
<radialGradient id="mB" cx="0.5" cy="0.5" r="0.55" fx="0.4" fy="0.32"><stop offset="0" stop-color="#e0ecff"/><stop offset="0.2" stop-color="#6a8ad8"/><stop offset="0.45" stop-color="#2c4ca8"/><stop offset="1" stop-color="#14265e"/></radialGradient>
<linearGradient id="cb2" x1="0" y1="0" x2="0" y2="1"><stop offset="0" stop-color="#1c6a38"/><stop offset="0.5" stop-color="#5aa06c"/><stop offset="1" stop-color="#f2f8f2"/></linearGradient></defs>
<rect width="600" height="642" fill="#fff"/>
<g mask="url(#cpc1)">
<rect x="39" y="15" width="120" height="240" fill="url(#gc1)"/>
<polygon points="114,15 159,15 159,255 114,255" fill="#5a2a10" opacity="0.06"/>
<polygon points="41.0,56.0 51.0,38.5 84.0,24.0 143.0,35.0 157.0,47.0 114.0,58.0" fill="#4a1a0a" opacity="0.22"/>
<ellipse cx="40.0" cy="67.4" rx="13.5" ry="9" fill="#975033" opacity="0.85"/>
<ellipse cx="40.0" cy="86.8" rx="13.5" ry="9" fill="#b0704c" opacity="0.85"/>
<ellipse cx="40.0" cy="114.8" rx="13.5" ry="9" fill="#c19772" opacity="0.85"/>
<ellipse cx="40.0" cy="137.3" rx="13.5" ry="9" fill="#c9a787" opacity="0.85"/>
<ellipse cx="40.0" cy="153.4" rx="13.5" ry="9" fill="#cdae90" opacity="0.85"/>
<ellipse cx="40.0" cy="178.5" rx="13.5" ry="9" fill="#d3ba9e" opacity="0.85"/>
<ellipse cx="40.0" cy="196.4" rx="13.5" ry="9" fill="#d5bca2" opacity="0.85"/>
<ellipse cx="40.0" cy="214.3" rx="13.5" ry="9" fill="#d4bba2" opacity="0.85"/>
<ellipse cx="40.0" cy="232.3" rx="13.5" ry="9" fill="#d3baa2" opacity="0.85"/>
<ellipse cx="158.0" cy="51.3" rx="13.5" ry="9" fill="#7f4029" opacity="0.85"/>
<ellipse cx="158.0" cy="77.8" rx="13.5" ry="9" fill="#a56140" opacity="0.85"/>
<ellipse cx="158.0" cy="108.8" rx="13.5" ry="9" fill="#bf926c" opacity="0.85"/>
<ellipse cx="158.0" cy="124.8" rx="13.5" ry="9" fill="#c59f7d" opacity="0.85"/>
<ellipse cx="158.0" cy="144.5" rx="13.5" ry="9" fill="#cbaa8b" opacity="0.85"/>
<ellipse cx="158.0" cy="171.3" rx="13.5" ry="9" fill="#d2b69a" opacity="0.85"/>
<ellipse cx="158.0" cy="192.8" rx="13.5" ry="9" fill="#d5bca2" opacity="0.85"/>
<ellipse cx="158.0" cy="212.6" rx="13.5" ry="9" fill="#d4bba2" opacity="0.85"/>
<ellipse cx="158.0" cy="228.8" rx="13.5" ry="9" fill="#d3bba2" opacity="0.85"/>
<ellipse cx="95.4" cy="39.0" rx="14.6" ry="6.9" transform="rotate(0 96.0 40.0)" fill="#5f2b18" opacity="0.5"/>
<ellipse cx="96.0" cy="40.0" rx="13.2" ry="5.5" transform="rotate(0 96.0 40.0)" fill="url(#hc1_96_40)"/>
<ellipse cx="127.4" cy="41.0" rx="10.2" ry="5.8" transform="rotate(0 128.0 42.0)" fill="#602b18" opacity="0.5"/>
<ellipse cx="128.0" cy="42.0" rx="8.8" ry="4.4" transform="rotate(0 128.0 42.0)" fill="url(#hc1_128_42)"/>
<ellipse cx="61.4" cy="43.0" rx="12.4" ry="5.8" transform="rotate(0 62.0 44.0)" fill="#602b18" opacity="0.5"/>
<ellipse cx="62.0" cy="44.0" rx="11.0" ry="4.4" transform="rotate(0 62.0 44.0)" fill="url(#hc1_62_44)"/>
<ellipse cx="72.4" cy="58.0" rx="10.2" ry="8.0" transform="rotate(0 73.0 59.0)" fill="#6c311a" opacity="0.5"/>
<ellipse cx="73.0" cy="59.0" rx="8.8" ry="6.6" transform="rotate(0 73.0 59.0)" fill="url(#hc1_73_59)"/>
<ellipse cx="105.4" cy="58.0" rx="10.2" ry="8.0" transform="rotate(0 106.0 59.0)" fill="#6c311a" opacity="0.5"/>
<ellipse cx="106.0" cy="59.0" rx="8.8" ry="6.6" transform="rotate(0 106.0 59.0)" fill="url(#hc1_106_59)"/>
<ellipse cx="131.4" cy="61.0" rx="9.1" ry="10.2" transform="rotate(0 132.0 62.0)" fill="#6f321b" opacity="0.5"/>
<ellipse cx="132.0" cy="62.0" rx="7.7" ry="8.8" transform="rotate(0 132.0 62.0)" fill="url(#hc1_132_62)"/>
<ellipse cx="79.4" cy="71.0" rx="11.3" ry="8.0" transform="rotate(0 80.0 72.0)" fill="#78391e" opacity="0.5"/>
<ellipse cx="80.0" cy="72.0" rx="9.9" ry="6.6" transform="rotate(0 80.0 72.0)" fill="url(#hc1_80_72)"/>
<ellipse cx="54.4" cy="71.0" rx="8.0" ry="8.0" transform="rotate(0 55.0 72.0)" fill="#78391e" opacity="0.5"/>
<ellipse cx="55.0" cy="72.0" rx="6.6" ry="6.6" transform="rotate(0 55.0 72.0)" fill="url(#hc1_55_72)"/>
<ellipse cx="99.4" cy="73.0" rx="9.1" ry="8.0" transform="rotate(0 100.0 74.0)" fill="#7a3b20" opacity="0.5"/>
<ellipse cx="100.0" cy="74.0" rx="7.7" ry="6.6" transform="rotate(0 100.0 74.0)" fill="url(#hc1_100_74)"/>
<ellipse cx="144.4" cy="90.4" rx="10.4" ry="7.2" transform="rotate(0 145.0 91.4)" fill="#854c2b" opacity="0.5"/>
<ellipse cx="145.0" cy="91.4" rx="9.0" ry="5.8" transform="rotate(0 145.0 91.4)" fill="url(#hc1_144_91)"/>
<ellipse cx="111.4" cy="94.0" rx="14.6" ry="9.1" transform="rotate(0 112.0 95.0)" fill="#86502e" opacity="0.5"/>
<ellipse cx="112.0" cy="95.0" rx="13.2" ry="7.7" transform="rotate(0 112.0 95.0)" fill="url(#hc1_112_95)"/>
<ellipse cx="65.4" cy="96.0" rx="15.7" ry="10.2" transform="rotate(0 66.0 97.0)" fill="#875230" opacity="0.5"/>
<ellipse cx="66.0" cy="97.0" rx="14.3" ry="8.8" transform="rotate(0 66.0 97.0)" fill="url(#hc1_66_97)"/>
<ellipse cx="136.4" cy="105.0" rx="10.2" ry="9.1" transform="rotate(0 137.0 106.0)" fill="#895a36" opacity="0.5"/>
<ellipse cx="137.0" cy="106.0" rx="8.8" ry="7.7" transform="rotate(0 137.0 106.0)" fill="url(#hc1_137_106)"/>
<ellipse cx="83.7" cy="112.3" rx="8.6" ry="8.6" transform="rotate(-4 84.3 113.3)" fill="#8a5c3a" opacity="0.5"/>
<ellipse cx="84.3" cy="113.3" rx="7.2" ry="7.2" transform="rotate(-4 84.3 113.3)" fill="url(#hc1_84_113)"/>
<ellipse cx="104.4" cy="116.0" rx="11.3" ry="9.1" transform="rotate(4 105.0 117.0)" fill="#8a5e3c" opacity="0.5"/>
<ellipse cx="105.0" cy="117.0" rx="9.9" ry="7.7" transform="rotate(4 105.0 117.0)" fill="url(#hc1_105_117)"/>
<ellipse cx="59.4" cy="119.0" rx="10.2" ry="6.9" transform="rotate(7 60.0 120.0)" fill="#8a5f3e" opacity="0.5"/>
<ellipse cx="60.0" cy="120.0" rx="8.8" ry="5.5" transform="rotate(7 60.0 120.0)" fill="url(#hc1_60_120)"/>
<ellipse cx="84.4" cy="127.0" rx="8.0" ry="6.9" transform="rotate(7 85.0 128.0)" fill="#8b6142" opacity="0.5"/>
<ellipse cx="85.0" cy="128.0" rx="6.6" ry="5.5" transform="rotate(7 85.0 128.0)" fill="url(#hc1_85_128)"/>
<ellipse cx="45.2" cy="127.6" rx="9.2" ry="6.8" transform="rotate(-12 45.8 128.6)" fill="#8b6242" opacity="0.5"/>
<ellipse cx="45.8" cy="128.6" rx="7.8" ry="5.4" transform="rotate(-12 45.8 128.6)" fill="url(#hc1_45_128)"/>
<ellipse cx="134.4" cy="131.0" rx="11.3" ry="10.2" transform="rotate(6 135.0 132.0)" fill="#8b6243" opacity="0.5"/>
<ellipse cx="135.0" cy="132.0" rx="9.9" ry="8.8" transform="rotate(6 135.0 132.0)" fill="url(#hc1_135_132)"/>
<ellipse cx="108.4" cy="141.0" rx="14.6" ry="9.1" transform="rotate(-15 109.0 142.0)" fill="#8b6344" opacity="0.5"/>
<ellipse cx="109.0" cy="142.0" rx="13.2" ry="7.7" transform="rotate(-15 109.0 142.0)" fill="url(#hc1_109_142)"/>
<ellipse cx="73.4" cy="142.0" rx="11.3" ry="6.9" transform="rotate(1 74.0 143.0)" fill="#8a6344" opacity="0.5"/>
<ellipse cx="74.0" cy="143.0" rx="9.9" ry="5.5" transform="rotate(1 74.0 143.0)" fill="url(#hc1_74_143)"/>
<ellipse cx="50.9" cy="143.5" rx="11.0" ry="6.6" transform="rotate(-14 51.5 144.5)" fill="#8a6344" opacity="0.5"/>
<ellipse cx="51.5" cy="144.5" rx="9.6" ry="5.2" transform="rotate(-14 51.5 144.5)" fill="url(#hc1_51_144)"/>
<ellipse cx="135.4" cy="156.0" rx="9.1" ry="9.1" transform="rotate(-3 136.0 157.0)" fill="#8a6445" opacity="0.5"/>
<ellipse cx="136.0" cy="157.0" rx="7.7" ry="7.7" transform="rotate(-3 136.0 157.0)" fill="url(#hc1_136_157)"/>
<ellipse cx="74.4" cy="159.0" rx="14.6" ry="10.2" transform="rotate(-19 75.0 160.0)" fill="#8a6446" opacity="0.5"/>
<ellipse cx="75.0" cy="160.0" rx="13.2" ry="8.8" transform="rotate(-19 75.0 160.0)" fill="url(#hc1_75_160)"/>
<ellipse cx="111.4" cy="160.0" rx="12.4" ry="9.1" transform="rotate(5 112.0 161.0)" fill="#8a6446" opacity="0.5"/>
<ellipse cx="112.0" cy="161.0" rx="11.0" ry="7.7" transform="rotate(5 112.0 161.0)" fill="url(#hc1_112_161)"/>
<ellipse cx="45.5" cy="161.3" rx="8.1" ry="8.6" transform="rotate(-6 46.1 162.3)" fill="#8a6446" opacity="0.5"/>
<ellipse cx="46.1" cy="162.3" rx="6.7" ry="7.2" transform="rotate(-6 46.1 162.3)" fill="url(#hc1_46_162)"/>
<ellipse cx="152.1" cy="165.9" rx="8.9" ry="8.8" transform="rotate(-5 152.7 166.9)" fill="#8a6446" opacity="0.5"/>
<ellipse cx="152.7" cy="166.9" rx="7.5" ry="7.4" transform="rotate(-5 152.7 166.9)" fill="url(#hc1_152_166)"/>
<ellipse cx="134.4" cy="173.0" rx="10.2" ry="6.9" transform="rotate(-6 135.0 174.0)" fill="#896547" opacity="0.5"/>
<ellipse cx="135.0" cy="174.0" rx="8.8" ry="5.5" transform="rotate(-6 135.0 174.0)" fill="url(#hc1_135_174)"/>
<ellipse cx="54.4" cy="175.0" rx="8.0" ry="6.9" transform="rotate(-13 55.0 176.0)" fill="#896547" opacity="0.5"/>
<ellipse cx="55.0" cy="176.0" rx="6.6" ry="5.5" transform="rotate(-13 55.0 176.0)" fill="url(#hc1_55_176)"/>
<ellipse cx="82.7" cy="176.3" rx="11.8" ry="7.6" transform="rotate(-16 83.3 177.3)" fill="#896547" opacity="0.5"/>
<ellipse cx="83.3" cy="177.3" rx="10.4" ry="6.2" transform="rotate(-16 83.3 177.3)" fill="url(#hc1_83_177)"/>
<ellipse cx="108.4" cy="178.0" rx="14.6" ry="9.1" transform="rotate(1 109.0 179.0)" fill="#896547" opacity="0.5"/>
<ellipse cx="109.0" cy="179.0" rx="13.2" ry="7.7" transform="rotate(1 109.0 179.0)" fill="url(#hc1_109_179)"/>
<ellipse cx="152.0" cy="186.9" rx="8.7" ry="8.2" transform="rotate(-12 152.6 187.9)" fill="#886548" opacity="0.5"/>
<ellipse cx="152.6" cy="187.9" rx="7.3" ry="6.8" transform="rotate(-12 152.6 187.9)" fill="url(#hc1_152_187)"/>
<ellipse cx="71.4" cy="192.0" rx="16.8" ry="10.2" transform="rotate(-14 72.0 193.0)" fill="#886448" opacity="0.5"/>
<ellipse cx="72.0" cy="193.0" rx="15.4" ry="8.8" transform="rotate(-14 72.0 193.0)" fill="url(#hc1_72_193)"/>
<ellipse cx="136.4" cy="195.0" rx="8.0" ry="9.1" transform="rotate(-16 137.0 196.0)" fill="#886448" opacity="0.5"/>
<ellipse cx="137.0" cy="196.0" rx="6.6" ry="7.7" transform="rotate(-16 137.0 196.0)" fill="url(#hc1_137_196)"/>
<ellipse cx="106.4" cy="199.0" rx="19.0" ry="11.3" transform="rotate(-19 107.0 200.0)" fill="#886448" opacity="0.5"/>
<ellipse cx="107.0" cy="200.0" rx="17.6" ry="9.9" transform="rotate(-19 107.0 200.0)" fill="url(#hc1_107_200)"/>
<ellipse cx="76.4" cy="211.0" rx="8.0" ry="8.0" transform="rotate(-11 77.0 212.0)" fill="#876348" opacity="0.5"/>
<ellipse cx="77.0" cy="212.0" rx="6.6" ry="6.6" transform="rotate(-11 77.0 212.0)" fill="url(#hc1_77_212)"/>
<ellipse cx="47.4" cy="214.2" rx="12.4" ry="6.4" transform="rotate(-18 48.0 215.2)" fill="#876348" opacity="0.5"/>
<ellipse cx="48.0" cy="215.2" rx="11.0" ry="5.0" transform="rotate(-18 48.0 215.2)" fill="url(#hc1_47_215)"/>
<ellipse cx="108.4" cy="219.0" rx="14.6" ry="10.2" transform="rotate(7 109.0 220.0)" fill="#866348" opacity="0.5"/>
<ellipse cx="109.0" cy="220.0" rx="13.2" ry="8.8" transform="rotate(7 109.0 220.0)" fill="url(#hc1_109_220)"/>
<ellipse cx="143.4" cy="223.0" rx="10.2" ry="12.4" transform="rotate(-6 144.0 224.0)" fill="#866348" opacity="0.5"/>
<ellipse cx="144.0" cy="224.0" rx="8.8" ry="11.0" transform="rotate(-6 144.0 224.0)" fill="url(#hc1_144_224)"/>
<ellipse cx="57.4" cy="231.0" rx="10.2" ry="6.9" transform="rotate(-8 58.0 232.0)" fill="#866348" opacity="0.5"/>
<ellipse cx="58.0" cy="232.0" rx="8.8" ry="5.5" transform="rotate(-8 58.0 232.0)" fill="url(#hc1_58_232)"/>
<ellipse cx="84.0" cy="234.0" rx="8.9" ry="7.9" transform="rotate(0 84.6 235.0)" fill="#866248" opacity="0.5"/>
<ellipse cx="84.6" cy="235.0" rx="7.5" ry="6.5" transform="rotate(0 84.6 235.0)" fill="url(#hc1_84_235)"/>
<ellipse cx="111.4" cy="237.0" rx="12.4" ry="6.9" transform="rotate(-17 112.0 238.0)" fill="#856248" opacity="0.5"/>
<ellipse cx="112.0" cy="238.0" rx="11.0" ry="5.5" transform="rotate(-17 112.0 238.0)" fill="url(#hc1_112_238)"/>
<ellipse cx="120.0" cy="70.0" rx="50.0" ry="50.0" fill="url(#shc1)"/>
<line x1="114" y1="50" x2="114" y2="245" stroke="#f0c090" stroke-width="0.9" opacity="0.75"/>
</g>
<g mask="url(#cpc2)">
<rect x="214" y="15" width="120" height="240" fill="url(#gc2)"/>
<polygon points="288,15 334,15 334,255 288,255" fill="#5a2a10" opacity="0.06"/>
<polygon points="216.0,42.0 258.0,22.7 332.0,34.0 288.0,52.0" fill="#4a1a0a" opacity="0.22"/>
<ellipse cx="215.0" cy="53.4" rx="13.5" ry="9" fill="#85452a" opacity="0.85"/>
<ellipse cx="215.0" cy="81.8" rx="13.5" ry="9" fill="#a76442" opacity="0.85"/>
<ellipse cx="215.0" cy="113.8" rx="13.5" ry="9" fill="#be8f69" opacity="0.85"/>
<ellipse cx="215.0" cy="127.6" rx="13.5" ry="9" fill="#c49d78" opacity="0.85"/>
<ellipse cx="215.0" cy="156.8" rx="13.5" ry="9" fill="#ccae8f" opacity="0.85"/>
<ellipse cx="215.0" cy="182.8" rx="13.5" ry="9" fill="#d3ba9e" opacity="0.85"/>
<ellipse cx="215.0" cy="206.3" rx="13.5" ry="9" fill="#d4bba0" opacity="0.85"/>
<ellipse cx="215.0" cy="219.8" rx="13.5" ry="9" fill="#d3bba0" opacity="0.85"/>
<ellipse cx="215.0" cy="228.8" rx="13.5" ry="9" fill="#d3baa0" opacity="0.85"/>
<ellipse cx="215.0" cy="242.3" rx="13.5" ry="9" fill="#d3baa1" opacity="0.85"/>
<ellipse cx="333.0" cy="45.6" rx="13.5" ry="9" fill="#804229" opacity="0.85"/>
<ellipse cx="333.0" cy="95.1" rx="13.5" ry="9" fill="#b57750" opacity="0.85"/>
<ellipse cx="333.0" cy="112.8" rx="13.5" ry="9" fill="#be8d67" opacity="0.85"/>
<ellipse cx="333.0" cy="127.8" rx="13.5" ry="9" fill="#c49d78" opacity="0.85"/>
<ellipse cx="333.0" cy="140.8" rx="13.5" ry="9" fill="#c8a582" opacity="0.85"/>
<ellipse cx="333.0" cy="154.6" rx="13.5" ry="9" fill="#cbad8d" opacity="0.85"/>
<ellipse cx="333.0" cy="172.6" rx="13.5" ry="9" fill="#d0b699" opacity="0.85"/>
<ellipse cx="333.0" cy="192.8" rx="13.5" ry="9" fill="#d4bba0" opacity="0.85"/>
<ellipse cx="333.0" cy="212.8" rx="13.5" ry="9" fill="#d4bba0" opacity="0.85"/>
<ellipse cx="333.0" cy="228.8" rx="13.5" ry="9" fill="#d3baa0" opacity="0.85"/>
<ellipse cx="287.4" cy="36.0" rx="17.9" ry="8.0" transform="rotate(0 288.0 37.0)" fill="#622d19" opacity="0.5"/>
<ellipse cx="288.0" cy="37.0" rx="16.5" ry="6.6" transform="rotate(0 288.0 37.0)" fill="url(#hc2_288_37)"/>
<ellipse cx="243.4" cy="38.0" rx="14.6" ry="8.0" transform="rotate(0 244.0 39.0)" fill="#632d19" opacity="0.5"/>
<ellipse cx="244.0" cy="39.0" rx="13.2" ry="6.6" transform="rotate(0 244.0 39.0)" fill="url(#hc2_244_39)"/>
<ellipse cx="287.4" cy="53.0" rx="10.2" ry="9.1" transform="rotate(0 288.0 54.0)" fill="#6a311a" opacity="0.5"/>
<ellipse cx="288.0" cy="54.0" rx="8.8" ry="7.7" transform="rotate(0 288.0 54.0)" fill="url(#hc2_288_54)"/>
<ellipse cx="252.4" cy="56.0" rx="12.4" ry="8.0" transform="rotate(0 253.0 57.0)" fill="#6c321b" opacity="0.5"/>
<ellipse cx="253.0" cy="57.0" rx="11.0" ry="6.6" transform="rotate(0 253.0 57.0)" fill="url(#hc2_253_57)"/>
<ellipse cx="229.4" cy="72.0" rx="12.4" ry="9.1" transform="rotate(0 230.0 73.0)" fill="#78381d" opacity="0.5"/>
<ellipse cx="230.0" cy="73.0" rx="11.0" ry="7.7" transform="rotate(0 230.0 73.0)" fill="url(#hc2_230_73)"/>
<ellipse cx="249.4" cy="73.0" rx="12.4" ry="10.2" transform="rotate(0 250.0 74.0)" fill="#78391d" opacity="0.5"/>
<ellipse cx="250.0" cy="74.0" rx="11.0" ry="8.8" transform="rotate(0 250.0 74.0)" fill="url(#hc2_250_74)"/>
<ellipse cx="312.4" cy="80.0" rx="11.3" ry="11.3" transform="rotate(0 313.0 81.0)" fill="#7c3e20" opacity="0.5"/>
<ellipse cx="313.0" cy="81.0" rx="9.9" ry="9.9" transform="rotate(0 313.0 81.0)" fill="url(#hc2_313_81)"/>
<ellipse cx="278.4" cy="83.0" rx="11.3" ry="9.1" transform="rotate(0 279.0 84.0)" fill="#7e4022" opacity="0.5"/>
<ellipse cx="279.0" cy="84.0" rx="9.9" ry="7.7" transform="rotate(0 279.0 84.0)" fill="url(#hc2_279_84)"/>
<ellipse cx="324.4" cy="94.8" rx="8.3" ry="6.4" transform="rotate(0 325.0 95.8)" fill="#854a27" opacity="0.5"/>
<ellipse cx="325.0" cy="95.8" rx="6.9" ry="5.0" transform="rotate(0 325.0 95.8)" fill="url(#hc2_325_95)"/>
<ellipse cx="287.4" cy="100.0" rx="10.2" ry="9.1" transform="rotate(0 288.0 101.0)" fill="#864d2a" opacity="0.5"/>
<ellipse cx="288.0" cy="101.0" rx="8.8" ry="7.7" transform="rotate(0 288.0 101.0)" fill="url(#hc2_288_101)"/>
<ellipse cx="242.4" cy="104.0" rx="14.6" ry="11.3" transform="rotate(0 243.0 105.0)" fill="#86502d" opacity="0.5"/>
<ellipse cx="243.0" cy="105.0" rx="13.2" ry="9.9" transform="rotate(0 243.0 105.0)" fill="url(#hc2_243_105)"/>
<ellipse cx="312.4" cy="113.0" rx="10.2" ry="12.4" transform="rotate(-5 313.0 114.0)" fill="#885633" opacity="0.5"/>
<ellipse cx="313.0" cy="114.0" rx="8.8" ry="11.0" transform="rotate(-5 313.0 114.0)" fill="url(#hc2_313_114)"/>
<ellipse cx="271.4" cy="120.0" rx="12.4" ry="9.1" transform="rotate(-15 272.0 121.0)" fill="#895b38" opacity="0.5"/>
<ellipse cx="272.0" cy="121.0" rx="11.0" ry="7.7" transform="rotate(-15 272.0 121.0)" fill="url(#hc2_272_121)"/>
<ellipse cx="234.3" cy="124.2" rx="10.5" ry="9.1" transform="rotate(-4 234.9 125.2)" fill="#895d39" opacity="0.5"/>
<ellipse cx="234.9" cy="125.2" rx="9.1" ry="7.7" transform="rotate(-4 234.9 125.2)" fill="url(#hc2_234_125)"/>
<ellipse cx="278.4" cy="126.0" rx="12.4" ry="8.0" transform="rotate(-12 279.0 127.0)" fill="#895d3a" opacity="0.5"/>
<ellipse cx="279.0" cy="127.0" rx="11.0" ry="6.6" transform="rotate(-12 279.0 127.0)" fill="url(#hc2_279_127)"/>
<ellipse cx="254.1" cy="134.1" rx="9.1" ry="8.8" transform="rotate(-14 254.7 135.1)" fill="#895e3c" opacity="0.5"/>
<ellipse cx="254.7" cy="135.1" rx="7.7" ry="7.4" transform="rotate(-14 254.7 135.1)" fill="url(#hc2_254_135)"/>
<ellipse cx="310.4" cy="139.0" rx="11.3" ry="9.1" transform="rotate(9 311.0 140.0)" fill="#895f3e" opacity="0.5"/>
<ellipse cx="311.0" cy="140.0" rx="9.9" ry="7.7" transform="rotate(9 311.0 140.0)" fill="url(#hc2_311_140)"/>
<ellipse cx="225.4" cy="141.0" rx="10.2" ry="6.9" transform="rotate(-2 226.0 142.0)" fill="#89603e" opacity="0.5"/>
<ellipse cx="226.0" cy="142.0" rx="8.8" ry="5.5" transform="rotate(-2 226.0 142.0)" fill="url(#hc2_226_142)"/>
<ellipse cx="285.4" cy="146.0" rx="12.4" ry="9.1" transform="rotate(-13 286.0 147.0)" fill="#88613f" opacity="0.5"/>
<ellipse cx="286.0" cy="147.0" rx="11.0" ry="7.7" transform="rotate(-13 286.0 147.0)" fill="url(#hc2_286_147)"/>
<ellipse cx="260.4" cy="150.0" rx="10.2" ry="8.0" transform="rotate(-12 261.0 151.0)" fill="#886141" opacity="0.5"/>
<ellipse cx="261.0" cy="151.0" rx="8.8" ry="6.6" transform="rotate(-12 261.0 151.0)" fill="url(#hc2_261_151)"/>
<ellipse cx="222.1" cy="156.3" rx="12.9" ry="6.4" transform="rotate(-13 222.7 157.3)" fill="#886342" opacity="0.5"/>
<ellipse cx="222.7" cy="157.3" rx="11.5" ry="5.0" transform="rotate(-13 222.7 157.3)" fill="url(#hc2_222_157)"/>
<ellipse cx="312.4" cy="157.0" rx="8.0" ry="11.3" transform="rotate(9 313.0 158.0)" fill="#886343" opacity="0.5"/>
<ellipse cx="313.0" cy="158.0" rx="6.6" ry="9.9" transform="rotate(9 313.0 158.0)" fill="url(#hc2_313_158)"/>
<ellipse cx="249.4" cy="166.0" rx="19.0" ry="12.4" transform="rotate(-5 250.0 167.0)" fill="#886445" opacity="0.5"/>
<ellipse cx="250.0" cy="167.0" rx="17.6" ry="11.0" transform="rotate(-5 250.0 167.0)" fill="url(#hc2_250_167)"/>
<ellipse cx="325.9" cy="172.2" rx="10.7" ry="7.6" transform="rotate(-10 326.5 173.2)" fill="#886445" opacity="0.5"/>
<ellipse cx="326.5" cy="173.2" rx="9.3" ry="6.2" transform="rotate(-10 326.5 173.2)" fill="url(#hc2_326_173)"/>
<ellipse cx="285.4" cy="173.0" rx="11.3" ry="8.0" transform="rotate(-3 286.0 174.0)" fill="#886445" opacity="0.5"/>
<ellipse cx="286.0" cy="174.0" rx="9.9" ry="6.6" transform="rotate(-3 286.0 174.0)" fill="url(#hc2_286_174)"/>
<ellipse cx="307.4" cy="180.0" rx="10.2" ry="9.1" transform="rotate(-6 308.0 181.0)" fill="#886445" opacity="0.5"/>
<ellipse cx="308.0" cy="181.0" rx="8.8" ry="7.7" transform="rotate(-6 308.0 181.0)" fill="url(#hc2_308_181)"/>
<ellipse cx="221.5" cy="182.3" rx="12.7" ry="7.2" transform="rotate(-19 222.1 183.3)" fill="#886445" opacity="0.5"/>
<ellipse cx="222.1" cy="183.3" rx="11.3" ry="5.8" transform="rotate(-19 222.1 183.3)" fill="url(#hc2_222_183)"/>
<ellipse cx="276.4" cy="186.0" rx="16.8" ry="11.3" transform="rotate(10 277.0 187.0)" fill="#876345" opacity="0.5"/>
<ellipse cx="277.0" cy="187.0" rx="15.4" ry="9.9" transform="rotate(10 277.0 187.0)" fill="url(#hc2_277_187)"/>
<ellipse cx="320.8" cy="196.4" rx="9.5" ry="7.0" transform="rotate(-9 321.4 197.4)" fill="#876345" opacity="0.5"/>
<ellipse cx="321.4" cy="197.4" rx="8.1" ry="5.6" transform="rotate(-9 321.4 197.4)" fill="url(#hc2_321_197)"/>
<ellipse cx="249.4" cy="202.0" rx="14.6" ry="10.2" transform="rotate(-2 250.0 203.0)" fill="#876345" opacity="0.5"/>
<ellipse cx="250.0" cy="203.0" rx="13.2" ry="8.8" transform="rotate(-2 250.0 203.0)" fill="url(#hc2_250_203)"/>
<ellipse cx="299.4" cy="202.0" rx="10.2" ry="8.0" transform="rotate(7 300.0 203.0)" fill="#876345" opacity="0.5"/>
<ellipse cx="300.0" cy="203.0" rx="8.8" ry="6.6" transform="rotate(7 300.0 203.0)" fill="url(#hc2_300_203)"/>
<ellipse cx="278.4" cy="204.0" rx="16.8" ry="10.2" transform="rotate(10 279.0 205.0)" fill="#876346" opacity="0.5"/>
<ellipse cx="279.0" cy="205.0" rx="15.4" ry="8.8" transform="rotate(10 279.0 205.0)" fill="url(#hc2_279_205)"/>
<ellipse cx="227.8" cy="210.2" rx="9.6" ry="9.5" transform="rotate(-16 228.4 211.2)" fill="#876346" opacity="0.5"/>
<ellipse cx="228.4" cy="211.2" rx="8.2" ry="8.1" transform="rotate(-16 228.4 211.2)" fill="url(#hc2_228_211)"/>
<ellipse cx="324.0" cy="212.1" rx="9.8" ry="8.7" transform="rotate(-1 324.6 213.1)" fill="#876346" opacity="0.5"/>
<ellipse cx="324.6" cy="213.1" rx="8.4" ry="7.3" transform="rotate(-1 324.6 213.1)" fill="url(#hc2_324_213)"/>
<ellipse cx="249.4" cy="220.0" rx="10.2" ry="6.9" transform="rotate(-16 250.0 221.0)" fill="#876346" opacity="0.5"/>
<ellipse cx="250.0" cy="221.0" rx="8.8" ry="5.5" transform="rotate(-16 250.0 221.0)" fill="url(#hc2_250_221)"/>
<ellipse cx="283.4" cy="220.0" rx="14.6" ry="9.1" transform="rotate(5 284.0 221.0)" fill="#876346" opacity="0.5"/>
<ellipse cx="284.0" cy="221.0" rx="13.2" ry="7.7" transform="rotate(5 284.0 221.0)" fill="url(#hc2_284_221)"/>
<ellipse cx="312.4" cy="225.0" rx="10.2" ry="8.0" transform="rotate(-6 313.0 226.0)" fill="#866246" opacity="0.5"/>
<ellipse cx="313.0" cy="226.0" rx="8.8" ry="6.6" transform="rotate(-6 313.0 226.0)" fill="url(#hc2_313_226)"/>
<ellipse cx="244.4" cy="231.0" rx="12.4" ry="6.9" transform="rotate(-1 245.0 232.0)" fill="#866246" opacity="0.5"/>
<ellipse cx="245.0" cy="232.0" rx="11.0" ry="5.5" transform="rotate(-1 245.0 232.0)" fill="url(#hc2_245_232)"/>
<ellipse cx="283.4" cy="234.0" rx="14.6" ry="8.0" transform="rotate(1 284.0 235.0)" fill="#866246" opacity="0.5"/>
<ellipse cx="284.0" cy="235.0" rx="13.2" ry="6.6" transform="rotate(1 284.0 235.0)" fill="url(#hc2_284_235)"/>
<ellipse cx="295.0" cy="75.0" rx="50.0" ry="55.0" fill="url(#shc2)"/>
<line x1="288" y1="50" x2="288" y2="245" stroke="#f0c090" stroke-width="0.9" opacity="0.75"/>
</g>
<g mask="url(#cpc3)">
<rect x="386" y="15" width="119" height="240" fill="url(#gc3)"/>
<polygon points="460,15 505,15 505,255 460,255" fill="#5a2a10" opacity="0.06"/>
<polygon points="388.0,42.0 423.0,24.5 503.0,34.0 460.0,49.0" fill="#4a1a0a" opacity="0.22"/>
<ellipse cx="387.0" cy="125.8" rx="13.5" ry="9" fill="#bf906b" opacity="0.85"/>
<ellipse cx="387.0" cy="156.6" rx="13.5" ry="9" fill="#caa280" opacity="0.85"/>
<ellipse cx="387.0" cy="169.8" rx="13.5" ry="9" fill="#cfa989" opacity="0.85"/>
<ellipse cx="387.0" cy="191.5" rx="13.5" ry="9" fill="#d6b394" opacity="0.85"/>
<ellipse cx="387.0" cy="206.8" rx="13.5" ry="9" fill="#d6b496" opacity="0.85"/>
<ellipse cx="387.0" cy="219.8" rx="13.5" ry="9" fill="#d6b698" opacity="0.85"/>
<ellipse cx="387.0" cy="232.8" rx="13.5" ry="9" fill="#d7b79a" opacity="0.85"/>
<ellipse cx="504.0" cy="45.8" rx="13.5" ry="9" fill="#965638" opacity="0.85"/>
<ellipse cx="504.0" cy="95.6" rx="13.5" ry="9" fill="#b17b56" opacity="0.85"/>
<ellipse cx="504.0" cy="109.6" rx="13.5" ry="9" fill="#b78560" opacity="0.85"/>
<ellipse cx="504.0" cy="117.3" rx="13.5" ry="9" fill="#bb8a65" opacity="0.85"/>
<ellipse cx="504.0" cy="132.6" rx="13.5" ry="9" fill="#c19570" opacity="0.85"/>
<ellipse cx="504.0" cy="147.8" rx="13.5" ry="9" fill="#c79d7a" opacity="0.85"/>
<ellipse cx="504.0" cy="170.8" rx="13.5" ry="9" fill="#d0aa8a" opacity="0.85"/>
<ellipse cx="504.0" cy="184.8" rx="13.5" ry="9" fill="#d5b293" opacity="0.85"/>
<ellipse cx="504.0" cy="202.4" rx="13.5" ry="9" fill="#d6b496" opacity="0.85"/>
<ellipse cx="504.0" cy="217.8" rx="13.5" ry="9" fill="#d6b598" opacity="0.85"/>
<ellipse cx="504.0" cy="229.7" rx="13.5" ry="9" fill="#d7b799" opacity="0.85"/>
<ellipse cx="424.9" cy="32.0" rx="11.3" ry="6.9" transform="rotate(0 425.5 33.0)" fill="#6e3820" opacity="0.5"/>
<ellipse cx="425.5" cy="33.0" rx="9.9" ry="5.5" transform="rotate(0 425.5 33.0)" fill="url(#hc3_425_33)"/>
<ellipse cx="458.4" cy="36.3" rx="15.7" ry="9.1" transform="rotate(0 459.0 37.3)" fill="#713a22" opacity="0.5"/>
<ellipse cx="459.0" cy="37.3" rx="14.3" ry="7.7" transform="rotate(0 459.0 37.3)" fill="url(#hc3_459_37)"/>
<ellipse cx="403.2" cy="39.6" rx="10.2" ry="5.8" transform="rotate(0 403.8 40.6)" fill="#733c23" opacity="0.5"/>
<ellipse cx="403.8" cy="40.6" rx="8.8" ry="4.4" transform="rotate(0 403.8 40.6)" fill="url(#hc3_403_40)"/>
<ellipse cx="440.1" cy="40.7" rx="8.0" ry="6.9" transform="rotate(0 440.7 41.7)" fill="#743c23" opacity="0.5"/>
<ellipse cx="440.7" cy="41.7" rx="6.6" ry="5.5" transform="rotate(0 440.7 41.7)" fill="url(#hc3_440_41)"/>
<ellipse cx="457.4" cy="50.4" rx="12.4" ry="8.0" transform="rotate(0 458.0 51.4)" fill="#784025" opacity="0.5"/>
<ellipse cx="458.0" cy="51.4" rx="11.0" ry="6.6" transform="rotate(0 458.0 51.4)" fill="url(#hc3_458_51)"/>
<ellipse cx="494.2" cy="65.6" rx="6.9" ry="10.2" transform="rotate(0 494.8 66.6)" fill="#7c4428" opacity="0.5"/>
<ellipse cx="494.8" cy="66.6" rx="5.5" ry="8.8" transform="rotate(0 494.8 66.6)" fill="url(#hc3_494_66)"/>
<ellipse cx="481.2" cy="70.0" rx="9.1" ry="11.3" transform="rotate(0 481.8 71.0)" fill="#7d4628" opacity="0.5"/>
<ellipse cx="481.8" cy="71.0" rx="7.7" ry="9.9" transform="rotate(0 481.8 71.0)" fill="url(#hc3_481_71)"/>
<ellipse cx="424.9" cy="76.4" rx="10.2" ry="8.0" transform="rotate(0 425.5 77.4)" fill="#7e4829" opacity="0.5"/>
<ellipse cx="425.5" cy="77.4" rx="8.8" ry="6.6" transform="rotate(0 425.5 77.4)" fill="url(#hc3_425_77)"/>
<ellipse cx="398.9" cy="77.5" rx="9.1" ry="9.1" transform="rotate(0 399.5 78.5)" fill="#7f4829" opacity="0.5"/>
<ellipse cx="399.5" cy="78.5" rx="7.7" ry="7.7" transform="rotate(0 399.5 78.5)" fill="url(#hc3_399_78)"/>
<ellipse cx="446.4" cy="78.6" rx="10.2" ry="9.1" transform="rotate(0 447.0 79.6)" fill="#7f4829" opacity="0.5"/>
<ellipse cx="447.0" cy="79.6" rx="8.8" ry="7.7" transform="rotate(0 447.0 79.6)" fill="url(#hc3_447_79)"/>
<ellipse cx="457.4" cy="100.3" rx="13.5" ry="9.1" transform="rotate(0 458.0 101.3)" fill="#824d2c" opacity="0.5"/>
<ellipse cx="458.0" cy="101.3" rx="12.1" ry="7.7" transform="rotate(0 458.0 101.3)" fill="url(#hc3_458_101)"/>
<ellipse cx="414.1" cy="105.7" rx="10.2" ry="8.0" transform="rotate(0 414.7 106.7)" fill="#824e2d" opacity="0.5"/>
<ellipse cx="414.7" cy="106.7" rx="8.8" ry="6.6" transform="rotate(0 414.7 106.7)" fill="url(#hc3_414_106)"/>
<ellipse cx="481.2" cy="105.7" rx="9.1" ry="9.1" transform="rotate(0 481.8 106.7)" fill="#824e2d" opacity="0.5"/>
<ellipse cx="481.8" cy="106.7" rx="7.7" ry="7.7" transform="rotate(0 481.8 106.7)" fill="url(#hc3_481_106)"/>
<ellipse cx="425.9" cy="122.1" rx="9.3" ry="8.4" transform="rotate(9 426.5 123.1)" fill="#84522f" opacity="0.5"/>
<ellipse cx="426.5" cy="123.1" rx="7.9" ry="7.0" transform="rotate(9 426.5 123.1)" fill="url(#hc3_426_123)"/>
<ellipse cx="489.1" cy="122.2" rx="11.2" ry="7.6" transform="rotate(-13 489.7 123.2)" fill="#84522f" opacity="0.5"/>
<ellipse cx="489.7" cy="123.2" rx="9.8" ry="6.2" transform="rotate(-13 489.7 123.2)" fill="url(#hc3_489_123)"/>
<ellipse cx="404.4" cy="124.0" rx="8.0" ry="6.9" transform="rotate(7 405.0 125.0)" fill="#84522f" opacity="0.5"/>
<ellipse cx="405.0" cy="125.0" rx="6.6" ry="5.5" transform="rotate(7 405.0 125.0)" fill="url(#hc3_405_125)"/>
<ellipse cx="451.4" cy="125.4" rx="15.7" ry="11.3" transform="rotate(-18 452.0 126.4)" fill="#85522f" opacity="0.5"/>
<ellipse cx="452.0" cy="126.4" rx="14.3" ry="9.9" transform="rotate(-18 452.0 126.4)" fill="url(#hc3_452_126)"/>
<ellipse cx="479.4" cy="139.5" rx="10.2" ry="11.3" transform="rotate(-11 480.0 140.5)" fill="#865431" opacity="0.5"/>
<ellipse cx="480.0" cy="140.5" rx="8.8" ry="9.9" transform="rotate(-11 480.0 140.5)" fill="url(#hc3_480_140)"/>
<ellipse cx="429.4" cy="141.7" rx="10.2" ry="6.9" transform="rotate(9 430.0 142.7)" fill="#865431" opacity="0.5"/>
<ellipse cx="430.0" cy="142.7" rx="8.8" ry="5.5" transform="rotate(9 430.0 142.7)" fill="url(#hc3_430_142)"/>
<ellipse cx="392.6" cy="144.0" rx="12.4" ry="6.9" transform="rotate(-2 393.2 145.0)" fill="#865532" opacity="0.5"/>
<ellipse cx="393.2" cy="145.0" rx="11.0" ry="5.5" transform="rotate(-2 393.2 145.0)" fill="url(#hc3_393_145)"/>
<ellipse cx="457.9" cy="147.0" rx="13.5" ry="9.1" transform="rotate(-2 458.5 148.0)" fill="#865532" opacity="0.5"/>
<ellipse cx="458.5" cy="148.0" rx="12.1" ry="7.7" transform="rotate(-2 458.5 148.0)" fill="url(#hc3_458_148)"/>
<ellipse cx="481.9" cy="154.8" rx="9.1" ry="10.2" transform="rotate(-12 482.5 155.8)" fill="#875633" opacity="0.5"/>
<ellipse cx="482.5" cy="155.8" rx="7.7" ry="8.8" transform="rotate(-12 482.5 155.8)" fill="url(#hc3_482_155)"/>
<ellipse cx="393.5" cy="162.5" rx="10.9" ry="7.6" transform="rotate(-3 394.1 163.5)" fill="#875735" opacity="0.5"/>
<ellipse cx="394.1" cy="163.5" rx="9.5" ry="6.2" transform="rotate(-3 394.1 163.5)" fill="url(#hc3_394_163)"/>
<ellipse cx="420.8" cy="164.6" rx="16.8" ry="12.4" transform="rotate(-2 421.4 165.6)" fill="#875735" opacity="0.5"/>
<ellipse cx="421.4" cy="165.6" rx="15.4" ry="11.0" transform="rotate(-2 421.4 165.6)" fill="url(#hc3_421_165)"/>
<ellipse cx="453.4" cy="164.6" rx="19.0" ry="12.4" transform="rotate(9 454.0 165.6)" fill="#875735" opacity="0.5"/>
<ellipse cx="454.0" cy="165.6" rx="17.6" ry="11.0" transform="rotate(9 454.0 165.6)" fill="url(#hc3_454_165)"/>
<ellipse cx="496.2" cy="171.7" rx="8.9" ry="7.8" transform="rotate(-2 496.8 172.7)" fill="#885836" opacity="0.5"/>
<ellipse cx="496.8" cy="172.7" rx="7.5" ry="6.4" transform="rotate(-2 496.8 172.7)" fill="url(#hc3_496_172)"/>
<ellipse cx="391.8" cy="179.3" rx="9.6" ry="8.0" transform="rotate(-14 392.4 180.3)" fill="#885937" opacity="0.5"/>
<ellipse cx="392.4" cy="180.3" rx="8.2" ry="6.6" transform="rotate(-14 392.4 180.3)" fill="url(#hc3_392_180)"/>
<ellipse cx="480.8" cy="181.0" rx="9.1" ry="12.4" transform="rotate(-20 481.4 182.0)" fill="#885937" opacity="0.5"/>
<ellipse cx="481.4" cy="182.0" rx="7.7" ry="11.0" transform="rotate(-20 481.4 182.0)" fill="url(#hc3_481_182)"/>
<ellipse cx="427.4" cy="185.3" rx="11.3" ry="9.1" transform="rotate(3 428.0 186.3)" fill="#895a38" opacity="0.5"/>
<ellipse cx="428.0" cy="186.3" rx="9.9" ry="7.7" transform="rotate(3 428.0 186.3)" fill="url(#hc3_428_186)"/>
<ellipse cx="455.4" cy="185.3" rx="19.0" ry="11.3" transform="rotate(-18 456.0 186.3)" fill="#895a38" opacity="0.5"/>
<ellipse cx="456.0" cy="186.3" rx="17.6" ry="9.9" transform="rotate(-18 456.0 186.3)" fill="url(#hc3_456_186)"/>
<ellipse cx="395.0" cy="198.0" rx="10.9" ry="7.8" transform="rotate(3 395.6 199.0)" fill="#895b3a" opacity="0.5"/>
<ellipse cx="395.6" cy="199.0" rx="9.5" ry="6.4" transform="rotate(3 395.6 199.0)" fill="url(#hc3_395_198)"/>
<ellipse cx="420.8" cy="200.6" rx="12.4" ry="10.2" transform="rotate(1 421.4 201.6)" fill="#895b3a" opacity="0.5"/>
<ellipse cx="421.4" cy="201.6" rx="11.0" ry="8.8" transform="rotate(1 421.4 201.6)" fill="url(#hc3_421_201)"/>
<ellipse cx="453.4" cy="202.8" rx="17.9" ry="11.3" transform="rotate(10 454.0 203.8)" fill="#8a5c3b" opacity="0.5"/>
<ellipse cx="454.0" cy="203.8" rx="16.5" ry="9.9" transform="rotate(10 454.0 203.8)" fill="url(#hc3_454_203)"/>
<ellipse cx="481.9" cy="202.8" rx="8.0" ry="10.2" transform="rotate(-8 482.5 203.8)" fill="#8a5c3b" opacity="0.5"/>
<ellipse cx="482.5" cy="203.8" rx="6.6" ry="8.8" transform="rotate(-8 482.5 203.8)" fill="url(#hc3_482_203)"/>
<ellipse cx="418.4" cy="215.9" rx="10.2" ry="8.0" transform="rotate(-3 419.0 216.9)" fill="#8a5d3c" opacity="0.5"/>
<ellipse cx="419.0" cy="216.9" rx="8.8" ry="6.6" transform="rotate(-3 419.0 216.9)" fill="url(#hc3_419_216)"/>
<ellipse cx="494.0" cy="217.4" rx="8.7" ry="6.6" transform="rotate(-13 494.6 218.4)" fill="#8a5d3d" opacity="0.5"/>
<ellipse cx="494.6" cy="218.4" rx="7.3" ry="5.2" transform="rotate(-13 494.6 218.4)" fill="url(#hc3_494_218)"/>
<ellipse cx="455.4" cy="221.3" rx="15.7" ry="9.1" transform="rotate(-15 456.0 222.3)" fill="#8a5e3d" opacity="0.5"/>
<ellipse cx="456.0" cy="222.3" rx="14.3" ry="7.7" transform="rotate(-15 456.0 222.3)" fill="url(#hc3_456_222)"/>
<ellipse cx="395.4" cy="223.0" rx="9.0" ry="8.2" transform="rotate(-10 396.0 224.0)" fill="#8a5e3d" opacity="0.5"/>
<ellipse cx="396.0" cy="224.0" rx="7.6" ry="6.8" transform="rotate(-10 396.0 224.0)" fill="url(#hc3_396_223)"/>
<ellipse cx="418.4" cy="233.3" rx="12.4" ry="8.0" transform="rotate(6 419.0 234.3)" fill="#8b5f3f" opacity="0.5"/>
<ellipse cx="419.0" cy="234.3" rx="11.0" ry="6.6" transform="rotate(6 419.0 234.3)" fill="url(#hc3_419_234)"/>
<ellipse cx="493.0" cy="233.8" rx="12.3" ry="7.4" transform="rotate(7 493.6 234.8)" fill="#8b5f3f" opacity="0.5"/>
<ellipse cx="493.6" cy="234.8" rx="10.9" ry="6.0" transform="rotate(7 493.6 234.8)" fill="url(#hc3_493_234)"/>
<ellipse cx="451.4" cy="235.5" rx="17.9" ry="8.0" transform="rotate(-13 452.0 236.5)" fill="#8b5f3f" opacity="0.5"/>
<ellipse cx="452.0" cy="236.5" rx="16.5" ry="6.6" transform="rotate(-13 452.0 236.5)" fill="url(#hc3_452_236)"/>
<line x1="460" y1="50" x2="460" y2="245" stroke="#f0c090" stroke-width="0.9" opacity="0.75"/>
</g>
<text x="1" y="16.7" font-family="Liberation Sans, sans-serif" font-size="20.8" font-weight="bold" fill="#111">A</text>
<text x="65" y="12.5" font-family="Liberation Sans, sans-serif" font-size="15.2" fill="#222">Random</text>
<text x="223" y="12.5" font-family="Liberation Sans, sans-serif" font-size="15.5" fill="#222">Single gradient</text>
<text x="394" y="12.5" font-family="Liberation Sans, sans-serif" font-size="15.6" fill="#222">ST dual gradient</text>
<text x="515" y="40" font-family="Liberation Sans, sans-serif" font-size="15.4" fill="#222">Charging at</text>
<text x="515" y="58.5" font-family="Liberation Sans, sans-serif" font-size="15.4" fill="#222">3.5 mA cm<tspan font-size="9" dy="-6">−2</tspan></text>
<text x="523.3" y="98.5" font-family="Liberation Sans, sans-serif" font-size="15" fill="#222">c<tspan font-size="10" dy="3.5">l, Li</tspan><tspan font-size="9" dy="-2.8">+</tspan></text>
<text x="519" y="117.8" font-family="Liberation Sans, sans-serif" font-size="15" fill="#222">(mol liter<tspan font-size="9" dy="-6.5">−1</tspan><tspan dy="6.5">)</tspan></text>
<rect x="518" y="134.5" width="9" height="94.5" fill="url(#cb1)"/>
<text x="533" y="140.5" font-family="Liberation Sans, sans-serif" font-size="13.5" fill="#222">0.6</text>
<text x="533" y="232.5" font-family="Liberation Sans, sans-serif" font-size="13.5" fill="#222">0.1</text>
<line x1="19.8" y1="33" x2="19.8" y2="235.5" stroke="#333" stroke-width="1.4"/>
<polygon points="19.8,28.5 16.8,35 22.8,35" fill="#333"/>
<line x1="18" y1="49.5" x2="20" y2="49.5" stroke="#333" stroke-width="1.2"/>
<line x1="18" y1="76.0" x2="20" y2="76.0" stroke="#333" stroke-width="1.2"/>
<line x1="18" y1="102.5" x2="20" y2="102.5" stroke="#333" stroke-width="1.2"/>
<line x1="18" y1="128.8" x2="20" y2="128.8" stroke="#333" stroke-width="1.2"/>
<line x1="18" y1="155.0" x2="20" y2="155.0" stroke="#333" stroke-width="1.2"/>
<line x1="18" y1="182.0" x2="20" y2="182.0" stroke="#333" stroke-width="1.2"/>
<line x1="18" y1="209.0" x2="20" y2="209.0" stroke="#333" stroke-width="1.2"/>
<line x1="18" y1="235.3" x2="20" y2="235.3" stroke="#333" stroke-width="1.2"/>
<text transform="translate(13.8 134) rotate(-90)" font-family="Liberation Sans, sans-serif" font-size="16.5" font-style="italic" fill="#222">L</text>
<text x="1.5" y="274" font-family="Liberation Sans, sans-serif" font-size="20.5" font-weight="bold" fill="#111">B</text>
<rect x="93" y="275.8" width="485.5" height="306.2" fill="none" stroke="#2a2a2a" stroke-width="1.8"/>
<line x1="86.0" y1="582.0" x2="93" y2="582.0" stroke="#2a2a2a" stroke-width="1.5"/>
<line x1="89.0" y1="555.4" x2="93" y2="555.4" stroke="#2a2a2a" stroke-width="1.5"/>
<line x1="86.0" y1="528.7" x2="93" y2="528.7" stroke="#2a2a2a" stroke-width="1.5"/>
<line x1="89.0" y1="502.1" x2="93" y2="502.1" stroke="#2a2a2a" stroke-width="1.5"/>
<line x1="86.0" y1="475.4" x2="93" y2="475.4" stroke="#2a2a2a" stroke-width="1.5"/>
<line x1="89.0" y1="448.8" x2="93" y2="448.8" stroke="#2a2a2a" stroke-width="1.5"/>
<line x1="86.0" y1="422.1" x2="93" y2="422.1" stroke="#2a2a2a" stroke-width="1.5"/>
<line x1="89.0" y1="395.4" x2="93" y2="395.4" stroke="#2a2a2a" stroke-width="1.5"/>
<line x1="86.0" y1="368.8" x2="93" y2="368.8" stroke="#2a2a2a" stroke-width="1.5"/>
<line x1="89.0" y1="342.1" x2="93" y2="342.1" stroke="#2a2a2a" stroke-width="1.5"/>
<line x1="86.0" y1="315.5" x2="93" y2="315.5" stroke="#2a2a2a" stroke-width="1.5"/>
<line x1="89" y1="288.9" x2="93" y2="288.9" stroke="#2a2a2a" stroke-width="1.5"/>
<text x="80" y="587.3" font-family="Liberation Sans, sans-serif" font-size="15.5" fill="#222" text-anchor="end">0%</text>
<text x="80" y="534.0" font-family="Liberation Sans, sans-serif" font-size="15.5" fill="#222" text-anchor="end">20%</text>
<text x="80" y="480.7" font-family="Liberation Sans, sans-serif" font-size="15.5" fill="#222" text-anchor="end">40%</text>
<text x="80" y="427.4" font-family="Liberation Sans, sans-serif" font-size="15.5" fill="#222" text-anchor="end">60%</text>
<text x="80" y="374.1" font-family="Liberation Sans, sans-serif" font-size="15.5" fill="#222" text-anchor="end">80%</text>
<text x="80" y="320.8" font-family="Liberation Sans, sans-serif" font-size="15.5" fill="#222" text-anchor="end">100%</text>
<line x1="93.0" y1="582" x2="93.0" y2="588.8" stroke="#2a2a2a" stroke-width="1.6"/>
<text x="93.0" y="606.7" font-family="Liberation Sans, sans-serif" font-size="15.5" fill="#222" text-anchor="middle">0</text>
<line x1="153.7" y1="582" x2="153.7" y2="588.8" stroke="#2a2a2a" stroke-width="1.6"/>
<text x="153.7" y="606.7" font-family="Liberation Sans, sans-serif" font-size="15.5" fill="#222" text-anchor="middle">1</text>
<line x1="214.4" y1="582" x2="214.4" y2="588.8" stroke="#2a2a2a" stroke-width="1.6"/>
<text x="214.4" y="606.7" font-family="Liberation Sans, sans-serif" font-size="15.5" fill="#222" text-anchor="middle">2</text>
<line x1="275.1" y1="582" x2="275.1" y2="588.8" stroke="#2a2a2a" stroke-width="1.6"/>
<text x="275.1" y="606.7" font-family="Liberation Sans, sans-serif" font-size="15.5" fill="#222" text-anchor="middle">3</text>
<line x1="335.8" y1="582" x2="335.8" y2="588.8" stroke="#2a2a2a" stroke-width="1.6"/>
<text x="335.8" y="606.7" font-family="Liberation Sans, sans-serif" font-size="15.5" fill="#222" text-anchor="middle">4</text>
<line x1="396.4" y1="582" x2="396.4" y2="588.8" stroke="#2a2a2a" stroke-width="1.6"/>
<text x="396.4" y="606.7" font-family="Liberation Sans, sans-serif" font-size="15.5" fill="#222" text-anchor="middle">5</text>
<line x1="457.1" y1="582" x2="457.1" y2="588.8" stroke="#2a2a2a" stroke-width="1.6"/>
<text x="457.1" y="606.7" font-family="Liberation Sans, sans-serif" font-size="15.5" fill="#222" text-anchor="middle">6</text>
<line x1="517.8" y1="582" x2="517.8" y2="588.8" stroke="#2a2a2a" stroke-width="1.6"/>
<text x="517.8" y="606.7" font-family="Liberation Sans, sans-serif" font-size="15.5" fill="#222" text-anchor="middle">7</text>
<line x1="578.5" y1="582" x2="578.5" y2="588.8" stroke="#2a2a2a" stroke-width="1.6"/>
<text x="578.5" y="606.7" font-family="Liberation Sans, sans-serif" font-size="15.5" fill="#222" text-anchor="middle">8</text>
<text x="211" y="636" font-family="Liberation Sans, sans-serif" font-size="24" fill="#111">Current density (mA · cm<tspan font-size="15" dy="-10">−2</tspan><tspan dy="10">)</tspan></text>
<text transform="translate(40.6 485) rotate(-90)" font-family="Liberation Sans, sans-serif" font-size="24" fill="#111">Utilization</text>
<ellipse cx="304.4" cy="268.9" rx="8.1" ry="5.6" transform="rotate(0 304.0 268.0)" fill="#174f27" opacity="0.9"/>
<ellipse cx="304.0" cy="268.0" rx="7.0" ry="4.5" transform="rotate(0 304.0 268.0)" fill="url(#gD)"/>
<ellipse cx="327.4" cy="257.9" rx="7.1" ry="6.1" transform="rotate(0 327.0 257.0)" fill="#174f27" opacity="0.9"/>
<ellipse cx="327.0" cy="257.0" rx="6.0" ry="5.0" transform="rotate(0 327.0 257.0)" fill="url(#gD)"/>
<ellipse cx="336.4" cy="263.9" rx="8.1" ry="6.1" transform="rotate(10 336.0 263.0)" fill="#174f27" opacity="0.9"/>
<ellipse cx="336.0" cy="263.0" rx="7.0" ry="5.0" transform="rotate(10 336.0 263.0)" fill="url(#gD)"/>
<ellipse cx="322.4" cy="271.9" rx="9.1" ry="7.6" transform="rotate(0 322.0 271.0)" fill="#174f27" opacity="0.9"/>
<ellipse cx="322.0" cy="271.0" rx="8.0" ry="6.5" transform="rotate(0 322.0 271.0)" fill="url(#gD)"/>
<ellipse cx="343.4" cy="269.9" rx="9.1" ry="6.1" transform="rotate(-10 343.0 269.0)" fill="#174f27" opacity="0.9"/>
<ellipse cx="343.0" cy="269.0" rx="8.0" ry="5.0" transform="rotate(-10 343.0 269.0)" fill="url(#gD)"/>
<ellipse cx="360.4" cy="263.9" rx="9.1" ry="8.1" transform="rotate(0 360.0 263.0)" fill="#174f27" opacity="0.9"/>
<ellipse cx="360.0" cy="263.0" rx="8.0" ry="7.0" transform="rotate(0 360.0 263.0)" fill="url(#gD)"/>
<ellipse cx="312.4" cy="261.9" rx="6.1" ry="5.1" transform="rotate(0 312.0 261.0)" fill="#174f27" opacity="0.9"/>
<ellipse cx="312.0" cy="261.0" rx="5.0" ry="4.0" transform="rotate(0 312.0 261.0)" fill="url(#gD)"/>
<ellipse cx="350.4" cy="259.9" rx="6.1" ry="5.1" transform="rotate(0 350.0 259.0)" fill="#174f27" opacity="0.9"/>
<ellipse cx="350.0" cy="259.0" rx="5.0" ry="4.0" transform="rotate(0 350.0 259.0)" fill="url(#gD)"/>
<ellipse cx="307.2" cy="281.7" rx="9.1" ry="7.4" transform="rotate(0 306.8 280.8)" fill="#174f27" opacity="0.9"/>
<ellipse cx="306.8" cy="280.8" rx="8.0" ry="6.3" transform="rotate(0 306.8 280.8)" fill="url(#gD)"/>
<ellipse cx="320.2" cy="280.6" rx="8.9" ry="6.9" transform="rotate(-23 319.8 279.7)" fill="#174f27" opacity="0.9"/>
<ellipse cx="319.8" cy="279.7" rx="7.8" ry="5.8" transform="rotate(-23 319.8 279.7)" fill="url(#gD)"/>
<ellipse cx="333.9" cy="283.3" rx="9.9" ry="7.0" transform="rotate(27 333.5 282.4)" fill="#174f27" opacity="0.9"/>
<ellipse cx="333.5" cy="282.4" rx="8.8" ry="5.9" transform="rotate(27 333.5 282.4)" fill="url(#gD)"/>
<ellipse cx="361.5" cy="281.3" rx="7.3" ry="6.0" transform="rotate(-26 361.1 280.4)" fill="#174f27" opacity="0.9"/>
<ellipse cx="361.1" cy="280.4" rx="6.2" ry="4.9" transform="rotate(-26 361.1 280.4)" fill="url(#gD)"/>
<ellipse cx="370.5" cy="282.0" rx="5.6" ry="6.6" transform="rotate(-0 370.1 281.1)" fill="#174f27" opacity="0.9"/>
<ellipse cx="370.1" cy="281.1" rx="4.5" ry="5.5" transform="rotate(-0 370.1 281.1)" fill="url(#gD)"/>
<ellipse cx="310.9" cy="288.9" rx="10.6" ry="7.3" transform="rotate(-10 310.5 288.0)" fill="#174f27" opacity="0.9"/>
<ellipse cx="310.5" cy="288.0" rx="9.5" ry="6.2" transform="rotate(-10 310.5 288.0)" fill="url(#gD)"/>
<ellipse cx="323.6" cy="289.5" rx="7.3" ry="7.1" transform="rotate(19 323.2 288.6)" fill="#174f27" opacity="0.9"/>
<ellipse cx="323.2" cy="288.6" rx="6.2" ry="6.0" transform="rotate(19 323.2 288.6)" fill="url(#gD)"/>
<ellipse cx="338.1" cy="289.9" rx="10.1" ry="5.6" transform="rotate(23 337.7 289.0)" fill="#174f27" opacity="0.9"/>
<ellipse cx="337.7" cy="289.0" rx="9.0" ry="4.5" transform="rotate(23 337.7 289.0)" fill="url(#gD)"/>
<ellipse cx="353.6" cy="289.1" rx="8.5" ry="5.7" transform="rotate(16 353.2 288.2)" fill="#174f27" opacity="0.9"/>
<ellipse cx="353.2" cy="288.2" rx="7.4" ry="4.6" transform="rotate(16 353.2 288.2)" fill="url(#gD)"/>
<ellipse cx="365.3" cy="289.0" rx="8.2" ry="7.5" transform="rotate(-21 364.9 288.1)" fill="#174f27" opacity="0.9"/>
<ellipse cx="364.9" cy="288.1" rx="7.1" ry="6.4" transform="rotate(-21 364.9 288.1)" fill="url(#gD)"/>
<ellipse cx="307.2" cy="299.2" rx="7.7" ry="6.7" transform="rotate(-17 306.8 298.3)" fill="#174f27" opacity="0.9"/>
<ellipse cx="306.8" cy="298.3" rx="6.6" ry="5.6" transform="rotate(-17 306.8 298.3)" fill="url(#gD)"/>
<ellipse cx="319.7" cy="297.4" rx="9.4" ry="5.8" transform="rotate(-16 319.3 296.5)" fill="#174f27" opacity="0.9"/>
<ellipse cx="319.3" cy="296.5" rx="8.3" ry="4.7" transform="rotate(-16 319.3 296.5)" fill="url(#gD)"/>
<ellipse cx="335.9" cy="297.9" rx="9.9" ry="6.2" transform="rotate(-16 335.5 297.0)" fill="#174f27" opacity="0.9"/>
<ellipse cx="335.5" cy="297.0" rx="8.8" ry="5.1" transform="rotate(-16 335.5 297.0)" fill="url(#gD)"/>
<ellipse cx="351.7" cy="297.3" rx="9.3" ry="5.8" transform="rotate(-16 351.3 296.4)" fill="#174f27" opacity="0.9"/>
<ellipse cx="351.3" cy="296.4" rx="8.2" ry="4.7" transform="rotate(-16 351.3 296.4)" fill="url(#gD)"/>
<ellipse cx="365.5" cy="298.6" rx="8.0" ry="6.2" transform="rotate(-23 365.1 297.7)" fill="#174f27" opacity="0.9"/>
<ellipse cx="365.1" cy="297.7" rx="6.9" ry="5.1" transform="rotate(-23 365.1 297.7)" fill="url(#gD)"/>
<ellipse cx="306.5" cy="308.8" rx="8.7" ry="7.5" transform="rotate(4 306.1 307.9)" fill="#174f27" opacity="0.9"/>
<ellipse cx="306.1" cy="307.9" rx="7.6" ry="6.4" transform="rotate(4 306.1 307.9)" fill="url(#gD)"/>
<ellipse cx="318.0" cy="306.1" rx="7.6" ry="7.4" transform="rotate(-14 317.6 305.2)" fill="#174f27" opacity="0.9"/>
<ellipse cx="317.6" cy="305.2" rx="6.5" ry="6.3" transform="rotate(-14 317.6 305.2)" fill="url(#gD)"/>
<ellipse cx="332.6" cy="307.7" rx="10.4" ry="6.0" transform="rotate(21 332.2 306.8)" fill="#174f27" opacity="0.9"/>
<ellipse cx="332.2" cy="306.8" rx="9.3" ry="4.9" transform="rotate(21 332.2 306.8)" fill="url(#gD)"/>
<ellipse cx="345.8" cy="308.1" rx="7.5" ry="5.7" transform="rotate(-15 345.4 307.2)" fill="#174f27" opacity="0.9"/>
<ellipse cx="345.4" cy="307.2" rx="6.4" ry="4.6" transform="rotate(-15 345.4 307.2)" fill="url(#gD)"/>
<ellipse cx="359.0" cy="308.2" rx="10.0" ry="6.8" transform="rotate(-18 358.6 307.3)" fill="#174f27" opacity="0.9"/>
<ellipse cx="358.6" cy="307.3" rx="8.9" ry="5.7" transform="rotate(-18 358.6 307.3)" fill="url(#gD)"/>
<ellipse cx="369.0" cy="306.4" rx="5.6" ry="6.7" transform="rotate(6 368.6 305.5)" fill="#174f27" opacity="0.9"/>
<ellipse cx="368.6" cy="305.5" rx="4.5" ry="5.6" transform="rotate(6 368.6 305.5)" fill="url(#gD)"/>
<ellipse cx="304.4" cy="315.3" rx="8.0" ry="6.5" transform="rotate(-18 304.0 314.4)" fill="#174f27" opacity="0.9"/>
<ellipse cx="304.0" cy="314.4" rx="6.9" ry="5.4" transform="rotate(-18 304.0 314.4)" fill="url(#gD)"/>
<ellipse cx="316.2" cy="316.4" rx="7.6" ry="6.3" transform="rotate(27 315.8 315.5)" fill="#174f27" opacity="0.9"/>
<ellipse cx="315.8" cy="315.5" rx="6.5" ry="5.2" transform="rotate(27 315.8 315.5)" fill="url(#gD)"/>
<ellipse cx="343.5" cy="316.3" rx="10.3" ry="7.0" transform="rotate(-27 343.1 315.4)" fill="#174f27" opacity="0.9"/>
<ellipse cx="343.1" cy="315.4" rx="9.2" ry="5.9" transform="rotate(-27 343.1 315.4)" fill="url(#gD)"/>
<ellipse cx="358.9" cy="316.0" rx="9.7" ry="6.2" transform="rotate(-24 358.5 315.1)" fill="#174f27" opacity="0.9"/>
<ellipse cx="358.5" cy="315.1" rx="8.6" ry="5.1" transform="rotate(-24 358.5 315.1)" fill="url(#gD)"/>
<ellipse cx="370.5" cy="317.5" rx="5.6" ry="7.1" transform="rotate(16 370.1 316.6)" fill="#174f27" opacity="0.9"/>
<ellipse cx="370.1" cy="316.6" rx="4.5" ry="6.0" transform="rotate(16 370.1 316.6)" fill="url(#gD)"/>
<ellipse cx="310.1" cy="325.3" rx="10.1" ry="6.4" transform="rotate(20 309.7 324.4)" fill="#1d5029" opacity="0.9"/>
<ellipse cx="309.7" cy="324.4" rx="9.0" ry="5.3" transform="rotate(20 309.7 324.4)" fill="url(#gDM)"/>
<ellipse cx="324.5" cy="325.5" rx="8.4" ry="6.8" transform="rotate(-24 324.1 324.6)" fill="#1d5029" opacity="0.9"/>
<ellipse cx="324.1" cy="324.6" rx="7.3" ry="5.7" transform="rotate(-24 324.1 324.6)" fill="url(#gDM)"/>
<ellipse cx="340.2" cy="325.3" rx="10.2" ry="7.1" transform="rotate(13 339.8 324.4)" fill="#1d5029" opacity="0.9"/>
<ellipse cx="339.8" cy="324.4" rx="9.1" ry="6.0" transform="rotate(13 339.8 324.4)" fill="url(#gDM)"/>
<ellipse cx="355.8" cy="325.4" rx="10.0" ry="5.8" transform="rotate(-26 355.4 324.5)" fill="#1d5029" opacity="0.9"/>
<ellipse cx="355.4" cy="324.5" rx="8.9" ry="4.7" transform="rotate(-26 355.4 324.5)" fill="url(#gDM)"/>
<ellipse cx="367.4" cy="326.6" rx="6.1" ry="7.0" transform="rotate(6 367.0 325.7)" fill="#1d5029" opacity="0.9"/>
<ellipse cx="367.0" cy="325.7" rx="5.0" ry="5.9" transform="rotate(6 367.0 325.7)" fill="url(#gDM)"/>
<ellipse cx="307.0" cy="333.8" rx="9.5" ry="6.0" transform="rotate(23 306.6 332.9)" fill="#1d5029" opacity="0.9"/>
<ellipse cx="306.6" cy="332.9" rx="8.4" ry="4.9" transform="rotate(23 306.6 332.9)" fill="url(#gDM)"/>
<ellipse cx="322.2" cy="332.9" rx="10.2" ry="6.3" transform="rotate(-17 321.8 332.0)" fill="#1d5029" opacity="0.9"/>
<ellipse cx="321.8" cy="332.0" rx="9.1" ry="5.2" transform="rotate(-17 321.8 332.0)" fill="url(#gDM)"/>
<ellipse cx="339.1" cy="332.4" rx="10.3" ry="7.4" transform="rotate(5 338.7 331.5)" fill="#1d5029" opacity="0.9"/>
<ellipse cx="338.7" cy="331.5" rx="9.2" ry="6.3" transform="rotate(5 338.7 331.5)" fill="url(#gDM)"/>
<ellipse cx="352.7" cy="332.7" rx="8.8" ry="7.3" transform="rotate(12 352.3 331.8)" fill="#1d5029" opacity="0.9"/>
<ellipse cx="352.3" cy="331.8" rx="7.7" ry="6.2" transform="rotate(12 352.3 331.8)" fill="url(#gDM)"/>
<ellipse cx="364.6" cy="332.8" rx="7.7" ry="6.5" transform="rotate(-16 364.2 331.9)" fill="#1d5029" opacity="0.9"/>
<ellipse cx="364.2" cy="331.9" rx="6.6" ry="5.4" transform="rotate(-16 364.2 331.9)" fill="url(#gDM)"/>
<ellipse cx="308.2" cy="338.6" rx="11.2" ry="6.9" transform="rotate(-16 307.8 337.7)" fill="#24552e" opacity="0.9"/>
<ellipse cx="307.8" cy="337.7" rx="10.1" ry="5.8" transform="rotate(-16 307.8 337.7)" fill="url(#gM)"/>
<ellipse cx="326.0" cy="336.9" rx="10.4" ry="6.6" transform="rotate(-28 325.6 336.0)" fill="#24552e" opacity="0.9"/>
<ellipse cx="325.6" cy="336.0" rx="9.3" ry="5.5" transform="rotate(-28 325.6 336.0)" fill="url(#gM)"/>
<ellipse cx="340.5" cy="335.6" rx="8.4" ry="7.2" transform="rotate(-15 340.1 334.7)" fill="#24552e" opacity="0.9"/>
<ellipse cx="340.1" cy="334.7" rx="7.3" ry="6.1" transform="rotate(-15 340.1 334.7)" fill="url(#gM)"/>
<ellipse cx="357.4" cy="336.7" rx="11.4" ry="7.4" transform="rotate(-26 357.0 335.8)" fill="#24552e" opacity="0.9"/>
<ellipse cx="357.0" cy="335.8" rx="10.3" ry="6.3" transform="rotate(-26 357.0 335.8)" fill="url(#gM)"/>
<ellipse cx="369.6" cy="338.7" rx="5.6" ry="7.5" transform="rotate(-19 369.2 337.8)" fill="#24552e" opacity="0.9"/>
<ellipse cx="369.2" cy="337.8" rx="4.5" ry="6.4" transform="rotate(-19 369.2 337.8)" fill="url(#gM)"/>
<ellipse cx="308.7" cy="345.4" rx="10.6" ry="6.3" transform="rotate(-18 308.3 344.5)" fill="#24552e" opacity="0.9"/>
<ellipse cx="308.3" cy="344.5" rx="9.5" ry="5.2" transform="rotate(-18 308.3 344.5)" fill="url(#gM)"/>
<ellipse cx="324.9" cy="348.9" rx="9.2" ry="7.2" transform="rotate(26 324.5 348.0)" fill="#24552e" opacity="0.9"/>
<ellipse cx="324.5" cy="348.0" rx="8.1" ry="6.1" transform="rotate(26 324.5 348.0)" fill="url(#gM)"/>
<ellipse cx="342.0" cy="347.2" rx="11.5" ry="6.8" transform="rotate(-21 341.6 346.3)" fill="#24552e" opacity="0.9"/>
<ellipse cx="341.6" cy="346.3" rx="10.4" ry="5.7" transform="rotate(-21 341.6 346.3)" fill="url(#gM)"/>
<ellipse cx="358.8" cy="346.8" rx="9.0" ry="7.4" transform="rotate(-5 358.4 345.9)" fill="#24552e" opacity="0.9"/>
<ellipse cx="358.4" cy="345.9" rx="7.9" ry="6.3" transform="rotate(-5 358.4 345.9)" fill="url(#gM)"/>
<ellipse cx="369.1" cy="345.7" rx="5.6" ry="7.6" transform="rotate(-26 368.7 344.8)" fill="#24552e" opacity="0.9"/>
<ellipse cx="368.7" cy="344.8" rx="4.5" ry="6.5" transform="rotate(-26 368.7 344.8)" fill="url(#gM)"/>
<ellipse cx="308.6" cy="357.7" rx="10.3" ry="6.7" transform="rotate(-16 308.2 356.8)" fill="#24552e" opacity="0.9"/>
<ellipse cx="308.2" cy="356.8" rx="9.2" ry="5.6" transform="rotate(-16 308.2 356.8)" fill="url(#gM)"/>
<ellipse cx="325.5" cy="359.0" rx="10.9" ry="6.0" transform="rotate(-9 325.1 358.1)" fill="#24552e" opacity="0.9"/>
<ellipse cx="325.1" cy="358.1" rx="9.8" ry="4.9" transform="rotate(-9 325.1 358.1)" fill="url(#gM)"/>
<ellipse cx="342.1" cy="358.5" rx="10.8" ry="6.2" transform="rotate(-24 341.7 357.6)" fill="#24552e" opacity="0.9"/>
<ellipse cx="341.7" cy="357.6" rx="9.7" ry="5.1" transform="rotate(-24 341.7 357.6)" fill="url(#gM)"/>
<ellipse cx="358.8" cy="359.1" rx="9.8" ry="7.0" transform="rotate(22 358.4 358.2)" fill="#24552e" opacity="0.9"/>
<ellipse cx="358.4" cy="358.2" rx="8.7" ry="5.9" transform="rotate(22 358.4 358.2)" fill="url(#gM)"/>
<ellipse cx="369.6" cy="357.2" rx="5.6" ry="7.5" transform="rotate(21 369.2 356.3)" fill="#24552e" opacity="0.9"/>
<ellipse cx="369.2" cy="356.3" rx="4.5" ry="6.4" transform="rotate(21 369.2 356.3)" fill="url(#gM)"/>
<ellipse cx="308.6" cy="366.1" rx="8.8" ry="5.7" transform="rotate(15 308.2 365.2)" fill="#24552e" opacity="0.9"/>
<ellipse cx="308.2" cy="365.2" rx="7.7" ry="4.6" transform="rotate(15 308.2 365.2)" fill="url(#gM)"/>
<ellipse cx="322.4" cy="364.8" rx="8.3" ry="6.1" transform="rotate(-5 322.0 363.9)" fill="#24552e" opacity="0.9"/>
<ellipse cx="322.0" cy="363.9" rx="7.2" ry="5.0" transform="rotate(-5 322.0 363.9)" fill="url(#gM)"/>
<ellipse cx="335.5" cy="366.1" rx="9.6" ry="7.4" transform="rotate(14 335.1 365.2)" fill="#24552e" opacity="0.9"/>
<ellipse cx="335.1" cy="365.2" rx="8.5" ry="6.3" transform="rotate(14 335.1 365.2)" fill="url(#gM)"/>
<ellipse cx="352.5" cy="365.0" rx="12.4" ry="6.7" transform="rotate(-26 352.1 364.1)" fill="#24552e" opacity="0.9"/>
<ellipse cx="352.1" cy="364.1" rx="11.3" ry="5.6" transform="rotate(-26 352.1 364.1)" fill="url(#gM)"/>
<ellipse cx="367.3" cy="366.5" rx="6.2" ry="7.4" transform="rotate(-4 366.9 365.6)" fill="#24552e" opacity="0.9"/>
<ellipse cx="366.9" cy="365.6" rx="5.1" ry="6.3" transform="rotate(-4 366.9 365.6)" fill="url(#gM)"/>
<ellipse cx="307.8" cy="376.9" rx="9.3" ry="7.1" transform="rotate(10 307.4 376.0)" fill="#24552e" opacity="0.9"/>
<ellipse cx="307.4" cy="376.0" rx="8.2" ry="6.0" transform="rotate(10 307.4 376.0)" fill="url(#gM)"/>
<ellipse cx="322.5" cy="374.1" rx="10.8" ry="6.9" transform="rotate(5 322.1 373.2)" fill="#24552e" opacity="0.9"/>
<ellipse cx="322.1" cy="373.2" rx="9.7" ry="5.8" transform="rotate(5 322.1 373.2)" fill="url(#gM)"/>
<ellipse cx="340.7" cy="373.5" rx="12.4" ry="7.4" transform="rotate(-23 340.3 372.6)" fill="#24552e" opacity="0.9"/>
<ellipse cx="340.3" cy="372.6" rx="11.3" ry="6.3" transform="rotate(-23 340.3 372.6)" fill="url(#gM)"/>
<ellipse cx="356.6" cy="373.6" rx="10.1" ry="5.9" transform="rotate(9 356.2 372.7)" fill="#24552e" opacity="0.9"/>
<ellipse cx="356.2" cy="372.7" rx="9.0" ry="4.8" transform="rotate(9 356.2 372.7)" fill="url(#gM)"/>
<ellipse cx="368.0" cy="373.8" rx="5.6" ry="6.6" transform="rotate(-19 367.6 372.9)" fill="#24552e" opacity="0.9"/>
<ellipse cx="367.6" cy="372.9" rx="4.5" ry="5.5" transform="rotate(-19 367.6 372.9)" fill="url(#gM)"/>
<ellipse cx="306.8" cy="385.8" rx="8.3" ry="7.0" transform="rotate(15 306.4 384.9)" fill="#24552e" opacity="0.9"/>
<ellipse cx="306.4" cy="384.9" rx="7.2" ry="5.9" transform="rotate(15 306.4 384.9)" fill="url(#gM)"/>
<ellipse cx="320.2" cy="385.5" rx="10.2" ry="5.7" transform="rotate(-18 319.8 384.6)" fill="#24552e" opacity="0.9"/>
<ellipse cx="319.8" cy="384.6" rx="9.1" ry="4.6" transform="rotate(-18 319.8 384.6)" fill="url(#gM)"/>
<ellipse cx="336.5" cy="383.9" rx="11.2" ry="6.2" transform="rotate(-6 336.1 383.0)" fill="#24552e" opacity="0.9"/>
<ellipse cx="336.1" cy="383.0" rx="10.1" ry="5.1" transform="rotate(-6 336.1 383.0)" fill="url(#gM)"/>
<ellipse cx="353.7" cy="383.1" rx="9.4" ry="6.6" transform="rotate(25 353.3 382.2)" fill="#24552e" opacity="0.9"/>
<ellipse cx="353.3" cy="382.2" rx="8.3" ry="5.5" transform="rotate(25 353.3 382.2)" fill="url(#gM)"/>
<ellipse cx="366.3" cy="385.5" rx="7.2" ry="7.1" transform="rotate(-11 365.9 384.6)" fill="#24552e" opacity="0.9"/>
<ellipse cx="365.9" cy="384.6" rx="6.1" ry="6.0" transform="rotate(-11 365.9 384.6)" fill="url(#gM)"/>
<ellipse cx="308.3" cy="394.4" rx="11.8" ry="7.6" transform="rotate(-10 307.9 393.5)" fill="#24552e" opacity="0.9"/>
<ellipse cx="307.9" cy="393.5" rx="10.7" ry="6.5" transform="rotate(-10 307.9 393.5)" fill="url(#gM)"/>
<ellipse cx="322.4" cy="393.8" rx="8.4" ry="5.7" transform="rotate(15 322.0 392.9)" fill="#24552e" opacity="0.9"/>
<ellipse cx="322.0" cy="392.9" rx="7.3" ry="4.6" transform="rotate(15 322.0 392.9)" fill="url(#gM)"/>
<ellipse cx="335.3" cy="393.6" rx="8.2" ry="6.9" transform="rotate(1 334.9 392.7)" fill="#24552e" opacity="0.9"/>
<ellipse cx="334.9" cy="392.7" rx="7.1" ry="5.8" transform="rotate(1 334.9 392.7)" fill="url(#gM)"/>
<ellipse cx="348.4" cy="394.8" rx="9.1" ry="5.7" transform="rotate(-14 348.0 393.9)" fill="#24552e" opacity="0.9"/>
<ellipse cx="348.0" cy="393.9" rx="8.0" ry="4.6" transform="rotate(-14 348.0 393.9)" fill="url(#gM)"/>
<ellipse cx="363.8" cy="394.0" rx="9.7" ry="6.5" transform="rotate(-6 363.4 393.1)" fill="#24552e" opacity="0.9"/>
<ellipse cx="363.4" cy="393.1" rx="8.6" ry="5.4" transform="rotate(-6 363.4 393.1)" fill="url(#gM)"/>
<ellipse cx="446.4" cy="379.3" rx="9.1" ry="6.1" transform="rotate(0 446.0 378.4)" fill="#3c6a44" opacity="0.9"/>
<ellipse cx="446.0" cy="378.4" rx="8.0" ry="5.0" transform="rotate(0 446.0 378.4)" fill="url(#gLD)"/>
<ellipse cx="467.2" cy="380.6" rx="10.1" ry="7.1" transform="rotate(10 466.8 379.7)" fill="#3c6a44" opacity="0.9"/>
<ellipse cx="466.8" cy="379.7" rx="9.0" ry="6.0" transform="rotate(10 466.8 379.7)" fill="url(#gLD)"/>
<ellipse cx="482.4" cy="384.5" rx="9.1" ry="7.1" transform="rotate(0 482.0 383.6)" fill="#3c6a44" opacity="0.9"/>
<ellipse cx="482.0" cy="383.6" rx="8.0" ry="6.0" transform="rotate(0 482.0 383.6)" fill="url(#gLD)"/>
<ellipse cx="433.8" cy="368.9" rx="12.1" ry="7.1" transform="rotate(20 433.4 368.0)" fill="#3c6a44" opacity="0.9"/>
<ellipse cx="433.4" cy="368.0" rx="11.0" ry="6.0" transform="rotate(20 433.4 368.0)" fill="url(#gLD)"/>
<ellipse cx="453.1" cy="362.6" rx="10.1" ry="7.1" transform="rotate(0 452.7 361.7)" fill="#3c6a44" opacity="0.9"/>
<ellipse cx="452.7" cy="361.7" rx="9.0" ry="6.0" transform="rotate(0 452.7 361.7)" fill="url(#gLD)"/>
<ellipse cx="469.8" cy="365.2" rx="10.1" ry="7.1" transform="rotate(0 469.4 364.3)" fill="#3c6a44" opacity="0.9"/>
<ellipse cx="469.4" cy="364.3" rx="9.0" ry="6.0" transform="rotate(0 469.4 364.3)" fill="url(#gLD)"/>
<ellipse cx="459.4" cy="371.6" rx="11.1" ry="7.1" transform="rotate(-10 459.0 370.7)" fill="#3c6a44" opacity="0.9"/>
<ellipse cx="459.0" cy="370.7" rx="10.0" ry="6.0" transform="rotate(-10 459.0 370.7)" fill="url(#gLD)"/>
<ellipse cx="477.4" cy="371.6" rx="9.1" ry="7.1" transform="rotate(0 477.0 370.7)" fill="#3c6a44" opacity="0.9"/>
<ellipse cx="477.0" cy="370.7" rx="8.0" ry="6.0" transform="rotate(0 477.0 370.7)" fill="url(#gLD)"/>
<ellipse cx="432.8" cy="385.4" rx="11.6" ry="7.3" transform="rotate(-27 432.4 384.5)" fill="#4a6e4c" opacity="0.9"/>
<ellipse cx="432.4" cy="384.5" rx="10.5" ry="6.2" transform="rotate(-27 432.4 384.5)" fill="url(#gL)"/>
<ellipse cx="451.0" cy="386.5" rx="12.2" ry="7.3" transform="rotate(3 450.6 385.6)" fill="#4a6e4c" opacity="0.9"/>
<ellipse cx="450.6" cy="385.6" rx="11.1" ry="6.2" transform="rotate(3 450.6 385.6)" fill="url(#gL)"/>
<ellipse cx="467.7" cy="387.2" rx="10.6" ry="6.0" transform="rotate(-25 467.3 386.3)" fill="#4a6e4c" opacity="0.9"/>
<ellipse cx="467.3" cy="386.3" rx="9.5" ry="4.9" transform="rotate(-25 467.3 386.3)" fill="url(#gL)"/>
<ellipse cx="484.0" cy="384.0" rx="11.5" ry="6.4" transform="rotate(19 483.6 383.1)" fill="#4a6e4c" opacity="0.9"/>
<ellipse cx="483.6" cy="383.1" rx="10.4" ry="5.3" transform="rotate(19 483.6 383.1)" fill="url(#gL)"/>
<ellipse cx="430.3" cy="396.4" rx="9.0" ry="8.1" transform="rotate(-22 429.9 395.5)" fill="#4a6e4c" opacity="0.9"/>
<ellipse cx="429.9" cy="395.5" rx="7.9" ry="7.0" transform="rotate(-22 429.9 395.5)" fill="url(#gL)"/>
<ellipse cx="444.3" cy="394.9" rx="10.0" ry="7.2" transform="rotate(11 443.9 394.0)" fill="#4a6e4c" opacity="0.9"/>
<ellipse cx="443.9" cy="394.0" rx="8.9" ry="6.1" transform="rotate(11 443.9 394.0)" fill="url(#gL)"/>
<ellipse cx="461.3" cy="396.6" rx="12.3" ry="6.6" transform="rotate(5 460.9 395.7)" fill="#4a6e4c" opacity="0.9"/>
<ellipse cx="460.9" cy="395.7" rx="11.2" ry="5.5" transform="rotate(5 460.9 395.7)" fill="url(#gL)"/>
<ellipse cx="476.9" cy="397.4" rx="8.7" ry="7.4" transform="rotate(27 476.5 396.5)" fill="#4a6e4c" opacity="0.9"/>
<ellipse cx="476.5" cy="396.5" rx="7.6" ry="6.3" transform="rotate(27 476.5 396.5)" fill="url(#gL)"/>
<ellipse cx="488.4" cy="395.7" rx="7.1" ry="7.3" transform="rotate(-22 488.0 394.8)" fill="#4a6e4c" opacity="0.9"/>
<ellipse cx="488.0" cy="394.8" rx="6.0" ry="6.2" transform="rotate(-22 488.0 394.8)" fill="url(#gL)"/>
<ellipse cx="433.4" cy="406.8" rx="10.9" ry="5.7" transform="rotate(-4 433.0 405.9)" fill="#4a6e4c" opacity="0.9"/>
<ellipse cx="433.0" cy="405.9" rx="9.8" ry="4.6" transform="rotate(-4 433.0 405.9)" fill="url(#gL)"/>
<ellipse cx="449.3" cy="407.0" rx="10.5" ry="6.6" transform="rotate(-22 448.9 406.1)" fill="#4a6e4c" opacity="0.9"/>
<ellipse cx="448.9" cy="406.1" rx="9.4" ry="5.5" transform="rotate(-22 448.9 406.1)" fill="url(#gL)"/>
<ellipse cx="466.1" cy="407.3" rx="11.7" ry="5.7" transform="rotate(-9 465.7 406.4)" fill="#4a6e4c" opacity="0.9"/>
<ellipse cx="465.7" cy="406.4" rx="10.6" ry="4.6" transform="rotate(-9 465.7 406.4)" fill="url(#gL)"/>
<ellipse cx="482.2" cy="408.6" rx="10.7" ry="6.1" transform="rotate(-1 481.8 407.7)" fill="#4a6e4c" opacity="0.9"/>
<ellipse cx="481.8" cy="407.7" rx="9.6" ry="5.0" transform="rotate(-1 481.8 407.7)" fill="url(#gL)"/>
<ellipse cx="493.8" cy="405.5" rx="5.6" ry="6.0" transform="rotate(-8 493.4 404.6)" fill="#4a6e4c" opacity="0.9"/>
<ellipse cx="493.4" cy="404.6" rx="4.5" ry="4.9" transform="rotate(-8 493.4 404.6)" fill="url(#gL)"/>
<ellipse cx="429.1" cy="415.6" rx="9.8" ry="7.5" transform="rotate(-14 428.7 414.7)" fill="#4a6e4c" opacity="0.9"/>
<ellipse cx="428.7" cy="414.7" rx="8.7" ry="6.4" transform="rotate(-14 428.7 414.7)" fill="url(#gL)"/>
<ellipse cx="444.7" cy="415.7" rx="11.4" ry="8.1" transform="rotate(0 444.3 414.8)" fill="#4a6e4c" opacity="0.9"/>
<ellipse cx="444.3" cy="414.8" rx="10.3" ry="7.0" transform="rotate(0 444.3 414.8)" fill="url(#gL)"/>
<ellipse cx="463.0" cy="417.7" rx="12.1" ry="7.7" transform="rotate(-15 462.6 416.8)" fill="#4a6e4c" opacity="0.9"/>
<ellipse cx="462.6" cy="416.8" rx="11.0" ry="6.6" transform="rotate(-15 462.6 416.8)" fill="url(#gL)"/>
<ellipse cx="481.5" cy="416.2" rx="11.4" ry="6.3" transform="rotate(22 481.1 415.3)" fill="#4a6e4c" opacity="0.9"/>
<ellipse cx="481.1" cy="415.3" rx="10.3" ry="5.2" transform="rotate(22 481.1 415.3)" fill="url(#gL)"/>
<ellipse cx="493.1" cy="418.4" rx="5.6" ry="6.3" transform="rotate(1 492.7 417.5)" fill="#4a6e4c" opacity="0.9"/>
<ellipse cx="492.7" cy="417.5" rx="4.5" ry="5.2" transform="rotate(1 492.7 417.5)" fill="url(#gL)"/>
<ellipse cx="430.2" cy="428.6" rx="9.7" ry="7.3" transform="rotate(-21 429.8 427.7)" fill="#4a6e4c" opacity="0.9"/>
<ellipse cx="429.8" cy="427.7" rx="8.6" ry="6.2" transform="rotate(-21 429.8 427.7)" fill="url(#gL)"/>
<ellipse cx="445.1" cy="427.5" rx="9.7" ry="6.7" transform="rotate(3 444.7 426.6)" fill="#4a6e4c" opacity="0.9"/>
<ellipse cx="444.7" cy="426.6" rx="8.6" ry="5.6" transform="rotate(3 444.7 426.6)" fill="url(#gL)"/>
<ellipse cx="464.4" cy="428.6" rx="12.9" ry="7.5" transform="rotate(5 464.0 427.7)" fill="#4a6e4c" opacity="0.9"/>
<ellipse cx="464.0" cy="427.7" rx="11.8" ry="6.4" transform="rotate(5 464.0 427.7)" fill="url(#gL)"/>
<ellipse cx="484.3" cy="427.3" rx="11.2" ry="6.5" transform="rotate(13 483.9 426.4)" fill="#4a6e4c" opacity="0.9"/>
<ellipse cx="483.9" cy="426.4" rx="10.1" ry="5.4" transform="rotate(13 483.9 426.4)" fill="url(#gL)"/>
<ellipse cx="435.1" cy="438.6" rx="12.2" ry="7.8" transform="rotate(2 434.7 437.7)" fill="#4a6e4c" opacity="0.9"/>
<ellipse cx="434.7" cy="437.7" rx="11.1" ry="6.7" transform="rotate(2 434.7 437.7)" fill="url(#gL)"/>
<ellipse cx="451.0" cy="438.2" rx="9.0" ry="6.5" transform="rotate(24 450.6 437.3)" fill="#4a6e4c" opacity="0.9"/>
<ellipse cx="450.6" cy="437.3" rx="7.9" ry="5.4" transform="rotate(24 450.6 437.3)" fill="url(#gL)"/>
<ellipse cx="467.3" cy="437.0" rx="11.4" ry="5.9" transform="rotate(11 466.9 436.1)" fill="#4a6e4c" opacity="0.9"/>
<ellipse cx="466.9" cy="436.1" rx="10.3" ry="4.8" transform="rotate(11 466.9 436.1)" fill="url(#gL)"/>
<ellipse cx="483.6" cy="435.8" rx="10.4" ry="6.4" transform="rotate(-20 483.2 434.9)" fill="#4a6e4c" opacity="0.9"/>
<ellipse cx="483.2" cy="434.9" rx="9.3" ry="5.3" transform="rotate(-20 483.2 434.9)" fill="url(#gL)"/>
<ellipse cx="494.6" cy="436.9" rx="5.6" ry="7.5" transform="rotate(24 494.2 436.0)" fill="#4a6e4c" opacity="0.9"/>
<ellipse cx="494.2" cy="436.0" rx="4.5" ry="6.4" transform="rotate(24 494.2 436.0)" fill="url(#gL)"/>
<ellipse cx="430.5" cy="446.7" rx="9.4" ry="7.3" transform="rotate(-15 430.1 445.8)" fill="#4a6e4c" opacity="0.9"/>
<ellipse cx="430.1" cy="445.8" rx="8.3" ry="6.2" transform="rotate(-15 430.1 445.8)" fill="url(#gL)"/>
<ellipse cx="445.4" cy="447.1" rx="8.6" ry="6.5" transform="rotate(-17 445.0 446.2)" fill="#4a6e4c" opacity="0.9"/>
<ellipse cx="445.0" cy="446.2" rx="7.5" ry="5.4" transform="rotate(-17 445.0 446.2)" fill="url(#gL)"/>
<ellipse cx="462.0" cy="447.3" rx="12.7" ry="6.9" transform="rotate(-19 461.6 446.4)" fill="#4a6e4c" opacity="0.9"/>
<ellipse cx="461.6" cy="446.4" rx="11.6" ry="5.8" transform="rotate(-19 461.6 446.4)" fill="url(#gL)"/>
<ellipse cx="482.4" cy="448.7" rx="12.4" ry="6.2" transform="rotate(20 482.0 447.8)" fill="#4a6e4c" opacity="0.9"/>
<ellipse cx="482.0" cy="447.8" rx="11.3" ry="5.1" transform="rotate(20 482.0 447.8)" fill="url(#gL)"/>
<ellipse cx="494.4" cy="448.1" rx="5.6" ry="7.5" transform="rotate(10 494.0 447.2)" fill="#4a6e4c" opacity="0.9"/>
<ellipse cx="494.0" cy="447.2" rx="4.5" ry="6.4" transform="rotate(10 494.0 447.2)" fill="url(#gL)"/>
<ellipse cx="432.2" cy="457.0" rx="10.2" ry="7.4" transform="rotate(-0 431.8 456.1)" fill="#4a6e4c" opacity="0.9"/>
<ellipse cx="431.8" cy="456.1" rx="9.1" ry="6.3" transform="rotate(-0 431.8 456.1)" fill="url(#gL)"/>
<ellipse cx="446.6" cy="455.7" rx="9.2" ry="6.2" transform="rotate(-14 446.2 454.8)" fill="#4a6e4c" opacity="0.9"/>
<ellipse cx="446.2" cy="454.8" rx="8.1" ry="5.1" transform="rotate(-14 446.2 454.8)" fill="url(#gL)"/>
<ellipse cx="462.2" cy="459.0" rx="9.9" ry="7.9" transform="rotate(-6 461.8 458.1)" fill="#4a6e4c" opacity="0.9"/>
<ellipse cx="461.8" cy="458.1" rx="8.8" ry="6.8" transform="rotate(-6 461.8 458.1)" fill="url(#gL)"/>
<ellipse cx="478.8" cy="457.9" rx="10.0" ry="5.9" transform="rotate(19 478.4 457.0)" fill="#4a6e4c" opacity="0.9"/>
<ellipse cx="478.4" cy="457.0" rx="8.9" ry="4.8" transform="rotate(19 478.4 457.0)" fill="url(#gL)"/>
<ellipse cx="490.8" cy="457.0" rx="5.6" ry="7.1" transform="rotate(-5 490.4 456.1)" fill="#4a6e4c" opacity="0.9"/>
<ellipse cx="490.4" cy="456.1" rx="4.5" ry="6.0" transform="rotate(-5 490.4 456.1)" fill="url(#gL)"/>
<ellipse cx="431.9" cy="467.4" rx="9.4" ry="6.1" transform="rotate(26 431.5 466.5)" fill="#4a6e4c" opacity="0.9"/>
<ellipse cx="431.5" cy="466.5" rx="8.3" ry="5.0" transform="rotate(26 431.5 466.5)" fill="url(#gL)"/>
<ellipse cx="448.2" cy="468.2" rx="12.4" ry="7.8" transform="rotate(-8 447.8 467.3)" fill="#4a6e4c" opacity="0.9"/>
<ellipse cx="447.8" cy="467.3" rx="11.3" ry="6.7" transform="rotate(-8 447.8 467.3)" fill="url(#gL)"/>
<ellipse cx="464.1" cy="468.8" rx="9.2" ry="7.8" transform="rotate(-16 463.7 467.9)" fill="#4a6e4c" opacity="0.9"/>
<ellipse cx="463.7" cy="467.9" rx="8.1" ry="6.7" transform="rotate(-16 463.7 467.9)" fill="url(#gL)"/>
<ellipse cx="478.0" cy="468.2" rx="10.0" ry="5.6" transform="rotate(-19 477.6 467.3)" fill="#4a6e4c" opacity="0.9"/>
<ellipse cx="477.6" cy="467.3" rx="8.9" ry="4.5" transform="rotate(-19 477.6 467.3)" fill="url(#gL)"/>
<ellipse cx="489.2" cy="467.7" rx="6.3" ry="6.1" transform="rotate(20 488.8 466.8)" fill="#4a6e4c" opacity="0.9"/>
<ellipse cx="488.8" cy="466.8" rx="5.2" ry="5.0" transform="rotate(20 488.8 466.8)" fill="url(#gL)"/>
<ellipse cx="432.1" cy="477.7" rx="10.6" ry="6.9" transform="rotate(17 431.7 476.8)" fill="#4a6e4c" opacity="0.9"/>
<ellipse cx="431.7" cy="476.8" rx="9.5" ry="5.8" transform="rotate(17 431.7 476.8)" fill="url(#gL)"/>
<ellipse cx="449.2" cy="477.7" rx="10.7" ry="7.2" transform="rotate(-5 448.8 476.8)" fill="#4a6e4c" opacity="0.9"/>
<ellipse cx="448.8" cy="476.8" rx="9.6" ry="6.1" transform="rotate(-5 448.8 476.8)" fill="url(#gL)"/>
<ellipse cx="465.8" cy="478.4" rx="9.9" ry="7.9" transform="rotate(20 465.4 477.5)" fill="#4a6e4c" opacity="0.9"/>
<ellipse cx="465.4" cy="477.5" rx="8.8" ry="6.8" transform="rotate(20 465.4 477.5)" fill="url(#gL)"/>
<ellipse cx="484.0" cy="478.7" rx="11.5" ry="6.7" transform="rotate(6 483.6 477.8)" fill="#4a6e4c" opacity="0.9"/>
<ellipse cx="483.6" cy="477.8" rx="10.4" ry="5.6" transform="rotate(6 483.6 477.8)" fill="url(#gL)"/>
<ellipse cx="428.6" cy="485.9" rx="9.1" ry="5.8" transform="rotate(-28 428.2 485.0)" fill="#4a6e4c" opacity="0.9"/>
<ellipse cx="428.2" cy="485.0" rx="8.0" ry="4.7" transform="rotate(-28 428.2 485.0)" fill="url(#gL)"/>
<ellipse cx="444.3" cy="487.9" rx="11.7" ry="7.1" transform="rotate(26 443.9 487.0)" fill="#4a6e4c" opacity="0.9"/>
<ellipse cx="443.9" cy="487.0" rx="10.6" ry="6.0" transform="rotate(26 443.9 487.0)" fill="url(#gL)"/>
<ellipse cx="461.3" cy="485.8" rx="8.7" ry="6.2" transform="rotate(-1 460.9 484.9)" fill="#4a6e4c" opacity="0.9"/>
<ellipse cx="460.9" cy="484.9" rx="7.6" ry="5.1" transform="rotate(-1 460.9 484.9)" fill="url(#gL)"/>
<ellipse cx="477.0" cy="485.3" rx="10.5" ry="7.0" transform="rotate(-14 476.6 484.4)" fill="#4a6e4c" opacity="0.9"/>
<ellipse cx="476.6" cy="484.4" rx="9.4" ry="5.9" transform="rotate(-14 476.6 484.4)" fill="url(#gL)"/>
<ellipse cx="489.4" cy="486.4" rx="6.1" ry="8.1" transform="rotate(24 489.0 485.5)" fill="#4a6e4c" opacity="0.9"/>
<ellipse cx="489.0" cy="485.5" rx="5.0" ry="7.0" transform="rotate(24 489.0 485.5)" fill="url(#gL)"/>
<ellipse cx="433.3" cy="498.4" rx="11.6" ry="5.6" transform="rotate(-1 432.9 497.5)" fill="#4a6e4c" opacity="0.9"/>
<ellipse cx="432.9" cy="497.5" rx="10.5" ry="4.5" transform="rotate(-1 432.9 497.5)" fill="url(#gL)"/>
<ellipse cx="453.1" cy="497.6" rx="12.0" ry="6.4" transform="rotate(20 452.7 496.7)" fill="#4a6e4c" opacity="0.9"/>
<ellipse cx="452.7" cy="496.7" rx="10.9" ry="5.3" transform="rotate(20 452.7 496.7)" fill="url(#gL)"/>
<ellipse cx="469.6" cy="496.7" rx="9.5" ry="7.2" transform="rotate(-8 469.2 495.8)" fill="#4a6e4c" opacity="0.9"/>
<ellipse cx="469.2" cy="495.8" rx="8.4" ry="6.1" transform="rotate(-8 469.2 495.8)" fill="url(#gL)"/>
<ellipse cx="485.0" cy="498.1" rx="10.5" ry="5.9" transform="rotate(25 484.6 497.2)" fill="#4a6e4c" opacity="0.9"/>
<ellipse cx="484.6" cy="497.2" rx="9.4" ry="4.8" transform="rotate(25 484.6 497.2)" fill="url(#gL)"/>
<ellipse cx="490.4" cy="363.9" rx="6.6" ry="6.1" transform="rotate(0 490.0 363.0)" fill="#174f27" opacity="0.9"/>
<ellipse cx="490.0" cy="363.0" rx="5.5" ry="5.0" transform="rotate(0 490.0 363.0)" fill="url(#gD)"/>
<ellipse cx="491.4" cy="410.9" rx="6.1" ry="6.1" transform="rotate(0 491.0 410.0)" fill="#3c6a44" opacity="0.9"/>
<ellipse cx="491.0" cy="410.0" rx="5.0" ry="5.0" transform="rotate(0 491.0 410.0)" fill="url(#gLD)"/>
<ellipse cx="162.9" cy="435.3" rx="12.5" ry="7.8" transform="rotate(-18 162.5 434.4)" fill="#587458" opacity="0.9"/>
<ellipse cx="162.5" cy="434.4" rx="11.4" ry="6.7" transform="rotate(-18 162.5 434.4)" fill="url(#gP)"/>
<ellipse cx="195.3" cy="436.8" rx="10.2" ry="6.8" transform="rotate(19 194.9 435.9)" fill="#587458" opacity="0.9"/>
<ellipse cx="194.9" cy="435.9" rx="9.1" ry="5.7" transform="rotate(19 194.9 435.9)" fill="url(#gP)"/>
<ellipse cx="210.2" cy="437.6" rx="10.5" ry="6.5" transform="rotate(17 209.8 436.7)" fill="#587458" opacity="0.9"/>
<ellipse cx="209.8" cy="436.7" rx="9.4" ry="5.4" transform="rotate(17 209.8 436.7)" fill="url(#gP)"/>
<ellipse cx="222.7" cy="437.8" rx="5.6" ry="8.5" transform="rotate(-14 222.3 436.9)" fill="#587458" opacity="0.9"/>
<ellipse cx="222.3" cy="436.9" rx="4.5" ry="7.4" transform="rotate(-14 222.3 436.9)" fill="url(#gP)"/>
<ellipse cx="162.8" cy="445.9" rx="11.2" ry="7.0" transform="rotate(-10 162.4 445.0)" fill="#587458" opacity="0.9"/>
<ellipse cx="162.4" cy="445.0" rx="10.1" ry="5.9" transform="rotate(-10 162.4 445.0)" fill="url(#gP)"/>
<ellipse cx="183.4" cy="448.4" rx="13.1" ry="8.6" transform="rotate(3 183.0 447.5)" fill="#587458" opacity="0.9"/>
<ellipse cx="183.0" cy="447.5" rx="12.0" ry="7.5" transform="rotate(3 183.0 447.5)" fill="url(#gP)"/>
<ellipse cx="202.4" cy="447.5" rx="12.5" ry="7.2" transform="rotate(-17 202.0 446.6)" fill="#587458" opacity="0.9"/>
<ellipse cx="202.0" cy="446.6" rx="11.4" ry="6.1" transform="rotate(-17 202.0 446.6)" fill="url(#gP)"/>
<ellipse cx="216.8" cy="447.4" rx="7.7" ry="7.6" transform="rotate(-21 216.4 446.5)" fill="#587458" opacity="0.9"/>
<ellipse cx="216.4" cy="446.5" rx="6.6" ry="6.5" transform="rotate(-21 216.4 446.5)" fill="url(#gP)"/>
<ellipse cx="161.0" cy="456.9" rx="10.9" ry="6.3" transform="rotate(25 160.6 456.0)" fill="#587458" opacity="0.9"/>
<ellipse cx="160.6" cy="456.0" rx="9.8" ry="5.2" transform="rotate(25 160.6 456.0)" fill="url(#gP)"/>
<ellipse cx="181.7" cy="458.7" rx="13.8" ry="6.2" transform="rotate(17 181.3 457.8)" fill="#587458" opacity="0.9"/>
<ellipse cx="181.3" cy="457.8" rx="12.7" ry="5.1" transform="rotate(17 181.3 457.8)" fill="url(#gP)"/>
<ellipse cx="200.5" cy="458.6" rx="9.9" ry="7.1" transform="rotate(22 200.1 457.7)" fill="#587458" opacity="0.9"/>
<ellipse cx="200.1" cy="457.7" rx="8.8" ry="6.0" transform="rotate(22 200.1 457.7)" fill="url(#gP)"/>
<ellipse cx="214.9" cy="459.3" rx="9.6" ry="7.0" transform="rotate(-20 214.5 458.4)" fill="#587458" opacity="0.9"/>
<ellipse cx="214.5" cy="458.4" rx="8.5" ry="5.9" transform="rotate(-20 214.5 458.4)" fill="url(#gP)"/>
<ellipse cx="162.3" cy="469.2" rx="12.2" ry="7.6" transform="rotate(-8 161.9 468.3)" fill="#587458" opacity="0.9"/>
<ellipse cx="161.9" cy="468.3" rx="11.1" ry="6.5" transform="rotate(-8 161.9 468.3)" fill="url(#gP)"/>
<ellipse cx="179.6" cy="467.2" rx="10.6" ry="6.5" transform="rotate(-22 179.2 466.3)" fill="#587458" opacity="0.9"/>
<ellipse cx="179.2" cy="466.3" rx="9.5" ry="5.4" transform="rotate(-22 179.2 466.3)" fill="url(#gP)"/>
<ellipse cx="196.7" cy="468.1" rx="12.3" ry="7.5" transform="rotate(-26 196.3 467.2)" fill="#587458" opacity="0.9"/>
<ellipse cx="196.3" cy="467.2" rx="11.2" ry="6.4" transform="rotate(-26 196.3 467.2)" fill="url(#gP)"/>
<ellipse cx="213.0" cy="467.5" rx="9.6" ry="6.1" transform="rotate(-21 212.6 466.6)" fill="#587458" opacity="0.9"/>
<ellipse cx="212.6" cy="466.6" rx="8.5" ry="5.0" transform="rotate(-21 212.6 466.6)" fill="url(#gP)"/>
<ellipse cx="223.3" cy="469.7" rx="5.6" ry="6.3" transform="rotate(-7 222.9 468.8)" fill="#587458" opacity="0.9"/>
<ellipse cx="222.9" cy="468.8" rx="4.5" ry="5.2" transform="rotate(-7 222.9 468.8)" fill="url(#gP)"/>
<ellipse cx="165.2" cy="477.7" rx="13.9" ry="7.4" transform="rotate(9 164.8 476.8)" fill="#587458" opacity="0.9"/>
<ellipse cx="164.8" cy="476.8" rx="12.8" ry="6.3" transform="rotate(9 164.8 476.8)" fill="url(#gP)"/>
<ellipse cx="183.6" cy="479.2" rx="11.6" ry="8.4" transform="rotate(-14 183.2 478.3)" fill="#587458" opacity="0.9"/>
<ellipse cx="183.2" cy="478.3" rx="10.5" ry="7.3" transform="rotate(-14 183.2 478.3)" fill="url(#gP)"/>
<ellipse cx="201.8" cy="477.6" rx="10.4" ry="7.6" transform="rotate(-14 201.4 476.7)" fill="#587458" opacity="0.9"/>
<ellipse cx="201.4" cy="476.7" rx="9.3" ry="6.5" transform="rotate(-14 201.4 476.7)" fill="url(#gP)"/>
<ellipse cx="215.7" cy="479.5" rx="8.8" ry="6.2" transform="rotate(-23 215.3 478.6)" fill="#587458" opacity="0.9"/>
<ellipse cx="215.3" cy="478.6" rx="7.7" ry="5.1" transform="rotate(-23 215.3 478.6)" fill="url(#gP)"/>
<ellipse cx="162.4" cy="487.2" rx="10.1" ry="7.3" transform="rotate(-9 162.0 486.3)" fill="#587458" opacity="0.9"/>
<ellipse cx="162.0" cy="486.3" rx="9.0" ry="6.2" transform="rotate(-9 162.0 486.3)" fill="url(#gP)"/>
<ellipse cx="177.7" cy="486.9" rx="9.8" ry="8.3" transform="rotate(18 177.3 486.0)" fill="#587458" opacity="0.9"/>
<ellipse cx="177.3" cy="486.0" rx="8.7" ry="7.2" transform="rotate(18 177.3 486.0)" fill="url(#gP)"/>
<ellipse cx="193.6" cy="487.8" rx="11.0" ry="6.2" transform="rotate(-8 193.2 486.9)" fill="#587458" opacity="0.9"/>
<ellipse cx="193.2" cy="486.9" rx="9.9" ry="5.1" transform="rotate(-8 193.2 486.9)" fill="url(#gP)"/>
<ellipse cx="212.8" cy="489.2" rx="11.7" ry="6.2" transform="rotate(-21 212.4 488.3)" fill="#587458" opacity="0.9"/>
<ellipse cx="212.4" cy="488.3" rx="10.6" ry="5.1" transform="rotate(-21 212.4 488.3)" fill="url(#gP)"/>
<ellipse cx="161.2" cy="497.9" rx="9.7" ry="6.1" transform="rotate(21 160.8 497.0)" fill="#587458" opacity="0.9"/>
<ellipse cx="160.8" cy="497.0" rx="8.6" ry="5.0" transform="rotate(21 160.8 497.0)" fill="url(#gP)"/>
<ellipse cx="177.5" cy="500.2" rx="11.0" ry="7.0" transform="rotate(-16 177.1 499.3)" fill="#587458" opacity="0.9"/>
<ellipse cx="177.1" cy="499.3" rx="9.9" ry="5.9" transform="rotate(-16 177.1 499.3)" fill="url(#gP)"/>
<ellipse cx="198.0" cy="499.6" rx="13.8" ry="7.4" transform="rotate(-3 197.6 498.7)" fill="#587458" opacity="0.9"/>
<ellipse cx="197.6" cy="498.7" rx="12.7" ry="6.3" transform="rotate(-3 197.6 498.7)" fill="url(#gP)"/>
<ellipse cx="215.7" cy="499.4" rx="8.8" ry="8.3" transform="rotate(-20 215.3 498.5)" fill="#587458" opacity="0.9"/>
<ellipse cx="215.3" cy="498.5" rx="7.7" ry="7.2" transform="rotate(-20 215.3 498.5)" fill="url(#gP)"/>
<ellipse cx="164.4" cy="508.0" rx="13.9" ry="6.8" transform="rotate(-25 164.0 507.1)" fill="#587458" opacity="0.9"/>
<ellipse cx="164.0" cy="507.1" rx="12.8" ry="5.7" transform="rotate(-25 164.0 507.1)" fill="url(#gP)"/>
<ellipse cx="183.4" cy="511.1" rx="9.6" ry="7.9" transform="rotate(28 183.0 510.2)" fill="#587458" opacity="0.9"/>
<ellipse cx="183.0" cy="510.2" rx="8.5" ry="6.8" transform="rotate(28 183.0 510.2)" fill="url(#gP)"/>
<ellipse cx="200.7" cy="510.9" rx="12.2" ry="8.2" transform="rotate(-12 200.3 510.0)" fill="#587458" opacity="0.9"/>
<ellipse cx="200.3" cy="510.0" rx="11.1" ry="7.1" transform="rotate(-12 200.3 510.0)" fill="url(#gP)"/>
<ellipse cx="215.6" cy="511.0" rx="8.9" ry="8.6" transform="rotate(-13 215.2 510.1)" fill="#587458" opacity="0.9"/>
<ellipse cx="215.2" cy="510.1" rx="7.8" ry="7.5" transform="rotate(-13 215.2 510.1)" fill="url(#gP)"/>
<ellipse cx="159.8" cy="520.8" rx="10.4" ry="6.9" transform="rotate(-14 159.4 519.9)" fill="#587458" opacity="0.9"/>
<ellipse cx="159.4" cy="519.9" rx="9.3" ry="5.8" transform="rotate(-14 159.4 519.9)" fill="url(#gP)"/>
<ellipse cx="177.9" cy="518.4" rx="11.2" ry="8.6" transform="rotate(-1 177.5 517.5)" fill="#587458" opacity="0.9"/>
<ellipse cx="177.5" cy="517.5" rx="10.1" ry="7.5" transform="rotate(-1 177.5 517.5)" fill="url(#gP)"/>
<ellipse cx="197.8" cy="519.3" rx="13.6" ry="7.4" transform="rotate(-7 197.4 518.4)" fill="#587458" opacity="0.9"/>
<ellipse cx="197.4" cy="518.4" rx="12.5" ry="6.3" transform="rotate(-7 197.4 518.4)" fill="url(#gP)"/>
<ellipse cx="214.7" cy="517.8" rx="9.8" ry="6.2" transform="rotate(-18 214.3 516.9)" fill="#587458" opacity="0.9"/>
<ellipse cx="214.3" cy="516.9" rx="8.7" ry="5.1" transform="rotate(-18 214.3 516.9)" fill="url(#gP)"/>
<ellipse cx="164.4" cy="530.5" rx="11.6" ry="7.4" transform="rotate(-16 164.0 529.6)" fill="#587458" opacity="0.9"/>
<ellipse cx="164.0" cy="529.6" rx="10.5" ry="6.3" transform="rotate(-16 164.0 529.6)" fill="url(#gP)"/>
<ellipse cx="182.9" cy="528.1" rx="11.2" ry="8.5" transform="rotate(20 182.5 527.2)" fill="#587458" opacity="0.9"/>
<ellipse cx="182.5" cy="527.2" rx="10.1" ry="7.4" transform="rotate(20 182.5 527.2)" fill="url(#gP)"/>
<ellipse cx="200.3" cy="528.5" rx="9.9" ry="6.2" transform="rotate(24 199.9 527.6)" fill="#587458" opacity="0.9"/>
<ellipse cx="199.9" cy="527.6" rx="8.8" ry="5.1" transform="rotate(24 199.9 527.6)" fill="url(#gP)"/>
<ellipse cx="215.1" cy="529.3" rx="9.4" ry="6.7" transform="rotate(-27 214.7 528.4)" fill="#587458" opacity="0.9"/>
<ellipse cx="214.7" cy="528.4" rx="8.3" ry="5.6" transform="rotate(-27 214.7 528.4)" fill="url(#gP)"/>
<ellipse cx="159.5" cy="540.6" rx="9.4" ry="7.9" transform="rotate(23 159.1 539.7)" fill="#587458" opacity="0.9"/>
<ellipse cx="159.1" cy="539.7" rx="8.3" ry="6.8" transform="rotate(23 159.1 539.7)" fill="url(#gP)"/>
<ellipse cx="177.3" cy="540.4" rx="13.7" ry="8.4" transform="rotate(19 176.9 539.5)" fill="#587458" opacity="0.9"/>
<ellipse cx="176.9" cy="539.5" rx="12.6" ry="7.3" transform="rotate(19 176.9 539.5)" fill="url(#gP)"/>
<ellipse cx="198.9" cy="540.6" rx="12.4" ry="7.6" transform="rotate(-21 198.5 539.7)" fill="#587458" opacity="0.9"/>
<ellipse cx="198.5" cy="539.7" rx="11.3" ry="6.5" transform="rotate(-21 198.5 539.7)" fill="url(#gP)"/>
<ellipse cx="215.6" cy="540.8" rx="8.9" ry="7.7" transform="rotate(1 215.2 539.9)" fill="#587458" opacity="0.9"/>
<ellipse cx="215.2" cy="539.9" rx="7.8" ry="6.6" transform="rotate(1 215.2 539.9)" fill="url(#gP)"/>
<ellipse cx="164.2" cy="549.7" rx="11.6" ry="7.5" transform="rotate(24 163.8 548.8)" fill="#587458" opacity="0.9"/>
<ellipse cx="163.8" cy="548.8" rx="10.5" ry="6.4" transform="rotate(24 163.8 548.8)" fill="url(#gP)"/>
<ellipse cx="183.1" cy="549.4" rx="10.8" ry="7.8" transform="rotate(10 182.7 548.5)" fill="#587458" opacity="0.9"/>
<ellipse cx="182.7" cy="548.5" rx="9.7" ry="6.7" transform="rotate(10 182.7 548.5)" fill="url(#gP)"/>
<ellipse cx="199.6" cy="551.9" rx="11.5" ry="7.1" transform="rotate(16 199.2 551.0)" fill="#587458" opacity="0.9"/>
<ellipse cx="199.2" cy="551.0" rx="10.4" ry="6.0" transform="rotate(16 199.2 551.0)" fill="url(#gP)"/>
<ellipse cx="215.3" cy="548.8" rx="9.2" ry="7.5" transform="rotate(-24 214.9 547.9)" fill="#587458" opacity="0.9"/>
<ellipse cx="214.9" cy="547.9" rx="8.1" ry="6.4" transform="rotate(-24 214.9 547.9)" fill="url(#gP)"/>
<ellipse cx="164.4" cy="558.9" rx="13.9" ry="6.6" transform="rotate(-12 164.0 558.0)" fill="#587458" opacity="0.9"/>
<ellipse cx="164.0" cy="558.0" rx="12.8" ry="5.5" transform="rotate(-12 164.0 558.0)" fill="url(#gP)"/>
<ellipse cx="184.3" cy="559.6" rx="9.5" ry="6.4" transform="rotate(-24 183.9 558.7)" fill="#587458" opacity="0.9"/>
<ellipse cx="183.9" cy="558.7" rx="8.4" ry="5.3" transform="rotate(-24 183.9 558.7)" fill="url(#gP)"/>
<ellipse cx="198.7" cy="559.0" rx="9.9" ry="6.1" transform="rotate(-25 198.3 558.1)" fill="#587458" opacity="0.9"/>
<ellipse cx="198.3" cy="558.1" rx="8.8" ry="5.0" transform="rotate(-25 198.3 558.1)" fill="url(#gP)"/>
<ellipse cx="214.5" cy="561.3" rx="10.0" ry="7.7" transform="rotate(11 214.1 560.4)" fill="#587458" opacity="0.9"/>
<ellipse cx="214.1" cy="560.4" rx="8.9" ry="6.6" transform="rotate(11 214.1 560.4)" fill="url(#gP)"/>
<ellipse cx="179.4" cy="427.9" rx="11.1" ry="7.1" transform="rotate(-10 179.0 427.0)" fill="#3c6a44" opacity="0.9"/>
<ellipse cx="179.0" cy="427.0" rx="10.0" ry="6.0" transform="rotate(-10 179.0 427.0)" fill="url(#gLD)"/>
<polyline points="115.8,345.3 183.8,373.8 252.5,434.2 320.3,505.0 434.1,536.0 548.1,557.0" fill="none" stroke="#151515" stroke-width="1.7"/>
<circle cx="115.8" cy="345.3" r="4.5" fill="url(#mK)"/>
<circle cx="183.8" cy="373.8" r="4.5" fill="url(#mK)"/>
<circle cx="252.5" cy="434.2" r="4.5" fill="url(#mK)"/>
<circle cx="320.3" cy="505.0" r="4.5" fill="url(#mK)"/>
<circle cx="434.1" cy="536.0" r="4.5" fill="url(#mK)"/>
<circle cx="548.1" cy="557.0" r="4.5" fill="url(#mK)"/>
<polyline points="115.8,338.7 183.8,364.2 252.5,413.6 320.3,479.8 434.1,514.4 548.1,536.9" fill="none" stroke="#b4404c" stroke-width="1.7"/>
<circle cx="115.8" cy="338.7" r="4.5" fill="url(#mR)"/>
<circle cx="183.8" cy="364.2" r="4.5" fill="url(#mR)"/>
<circle cx="252.5" cy="413.6" r="4.5" fill="url(#mR)"/>
<circle cx="320.3" cy="479.8" r="4.5" fill="url(#mR)"/>
<circle cx="434.1" cy="514.4" r="4.5" fill="url(#mR)"/>
<circle cx="548.1" cy="536.9" r="4.5" fill="url(#mR)"/>
<polyline points="115.8,326.7 183.8,337.2 252.5,373.8 320.3,421.5 434.1,462.5 548.1,495.5" fill="none" stroke="#3d5888" stroke-width="1.7"/>
<circle cx="115.8" cy="326.7" r="4.5" fill="url(#mB)"/>
<circle cx="183.8" cy="337.2" r="4.5" fill="url(#mB)"/>
<circle cx="252.5" cy="373.8" r="4.5" fill="url(#mB)"/>
<circle cx="320.3" cy="421.5" r="4.5" fill="url(#mB)"/>
<circle cx="434.1" cy="462.5" r="4.5" fill="url(#mB)"/>
<circle cx="548.1" cy="495.5" r="4.5" fill="url(#mB)"/>
<line x1="411.5" y1="290.1" x2="455.5" y2="290.1" stroke="#151515" stroke-width="1.9"/>
<circle cx="433.6" cy="290.1" r="4.3" fill="url(#mK)"/>
<text x="459" y="297.2" font-family="Liberation Sans, sans-serif" font-size="14.9" fill="#111">Random</text>
<line x1="411.5" y1="313.7" x2="455.5" y2="313.7" stroke="#b44050" stroke-width="1.9"/>
<circle cx="433.6" cy="313.7" r="4.3" fill="url(#mR)"/>
<text x="459" y="319.7" font-family="Liberation Sans, sans-serif" font-size="14.9" fill="#111">Single gradient</text>
<line x1="411.5" y1="337.2" x2="455.5" y2="337.2" stroke="#3c5284" stroke-width="1.9"/>
<circle cx="433.6" cy="337.2" r="4.3" fill="url(#mB)"/>
<text x="459" y="341.6" font-family="Liberation Sans, sans-serif" font-size="14.9" fill="#111">ST dual gradient</text>
<line x1="327.0" y1="415.0" x2="335.0" y2="408.0" stroke="#3c5a86" stroke-width="1.5"/>
<polygon points="339.5,404.0 337.0,410.2 333.0,405.7" fill="#3c5a86"/>
<line x1="331.6" y1="476.0" x2="413.0" y2="468.2" stroke="#a8303c" stroke-width="1.5"/>
<polygon points="419.0,467.6 413.3,471.2 412.7,465.2" fill="#a8303c"/>
<line x1="314.5" y1="507.3" x2="275.5" y2="504.9" stroke="#111" stroke-width="1.4"/>
<polygon points="270.5,504.6 275.6,502.4 275.3,507.4" fill="#111"/>
<rect x="239.7" y="514.3" width="5.6" height="55" fill="url(#cb2)"/>
<text x="240" y="493.5" font-family="Liberation Sans, sans-serif" font-size="14" fill="#222">c<tspan font-size="9" dy="3">s, Li</tspan><tspan font-size="9" dy="-4">+</tspan></text>
<text x="248" y="517" font-family="Liberation Sans, sans-serif" font-size="11" fill="#222">80% c<tspan font-size="7.5" dy="3">s, max</tspan></text>
<text x="248" y="571.5" font-family="Liberation Sans, sans-serif" font-size="11" fill="#222">10% c<tspan font-size="7.5" dy="3">s, max</tspan></text>
</svg></body></html>
